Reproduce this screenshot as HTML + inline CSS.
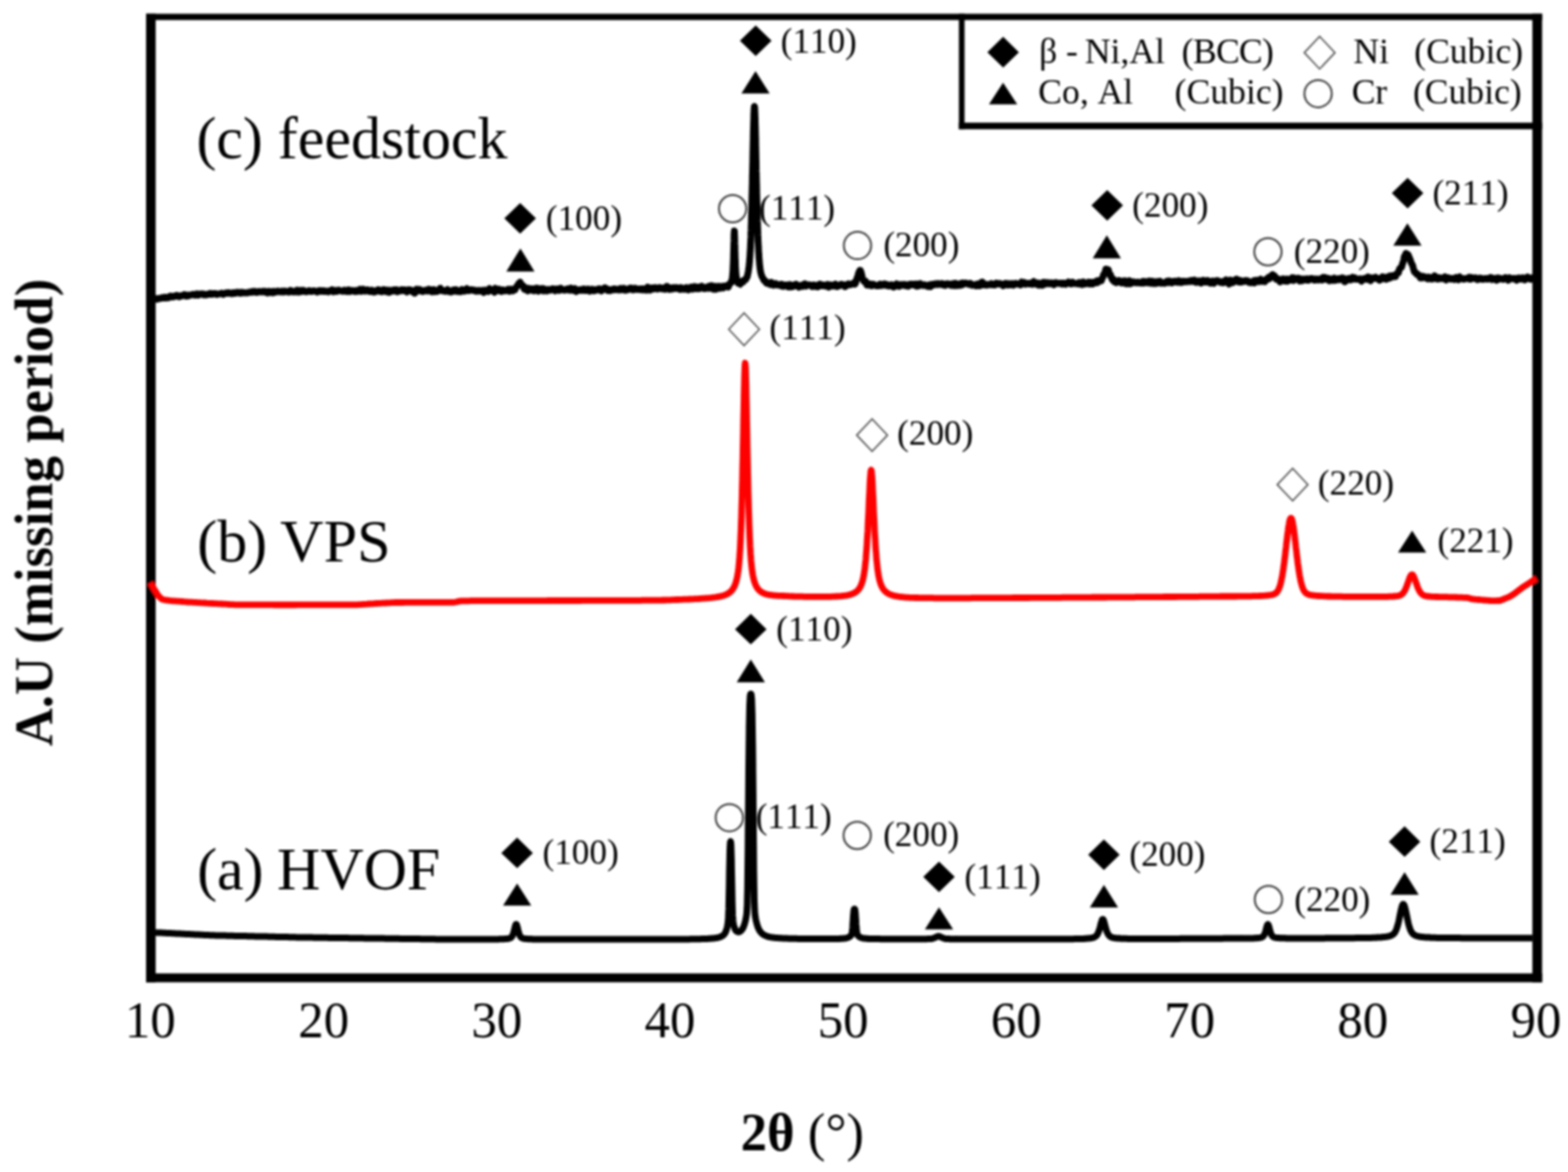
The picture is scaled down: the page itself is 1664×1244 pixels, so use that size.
<!DOCTYPE html>
<html lang="en"><head><meta charset="utf-8"><title>XRD patterns</title>
<style>html,body{margin:0;padding:0;background:#fff;}body{width:1664px;height:1244px;overflow:hidden;}svg{display:block;}text{font-family:"Liberation Serif",serif;fill:#000;font-kerning:none;}</style></head><body>
<svg width="1664" height="1244" viewBox="0 0 1664 1244">
<rect width="1664" height="1244" fill="#fff"/>
<defs><filter id="b" filterUnits="userSpaceOnUse" x="0" y="0" width="1664" height="1244"><feGaussianBlur stdDeviation="0.9"/></filter></defs>
<g filter="url(#b)">
<path d="M165.0 317.3L165.4 316.8L165.8 316.8L166.2 317.5L166.6 317.7L167.0 317.5L167.4 317.3L167.8 316.9L168.2 316.7L168.6 316.8L169.0 316.9L169.4 317.0L169.8 316.9L170.2 316.7L170.6 316.5L171.0 316.5L171.4 316.2L171.8 315.9L172.2 315.9L172.6 316.4L173.0 316.5L173.4 316.3L173.8 316.2L174.2 316.2L174.6 315.9L175.0 315.4L175.4 315.5L175.8 316.3L176.2 316.4L176.6 316.0L177.0 315.7L177.4 315.5L177.8 315.6L178.2 316.2L178.6 316.2L179.0 315.6L179.4 315.1L179.8 314.7L180.2 314.6L180.6 314.8L181.0 314.6L181.4 314.1L181.8 314.3L182.2 315.1L182.6 315.3L183.0 314.9L183.4 314.6L183.8 314.5L184.2 314.6L184.6 315.1L185.0 314.9L185.4 314.1L185.8 314.0L186.2 314.6L186.6 314.5L187.0 313.7L187.4 313.5L187.8 313.9L188.2 314.0L188.6 313.8L189.0 314.0L189.4 314.7L189.8 315.0L190.2 315.1L190.6 314.8L191.0 314.2L191.4 314.0L191.8 314.3L192.2 314.3L192.6 314.0L193.0 313.9L193.4 314.1L193.8 313.9L194.2 313.5L194.6 313.2L195.0 312.9L195.4 312.7L195.8 312.6L196.2 312.9L196.6 313.4L197.0 314.0L197.4 314.4L197.8 314.4L198.2 313.8L198.6 313.4L199.0 313.1L199.4 313.3L199.8 313.9L200.2 314.0L200.6 313.5L201.0 313.3L201.4 313.2L201.8 313.2L202.2 313.2L202.6 313.2L203.0 313.0L203.4 312.9L203.8 312.9L204.2 312.7L204.6 312.3L205.0 312.4L205.4 312.9L205.8 313.1L206.2 312.9L206.6 313.0L207.0 313.4L207.4 313.3L207.8 312.8L208.2 312.4L208.6 311.9L209.0 311.9L209.4 312.4L209.8 312.9L210.2 313.4L210.6 313.4L211.0 312.7L211.4 312.4L211.8 312.2L212.2 312.1L212.6 312.0L213.0 311.9L213.4 311.9L213.8 312.0L214.2 312.2L214.6 312.2L215.0 311.9L215.4 312.2L215.8 312.9L216.2 313.0L216.6 312.5L217.0 312.3L217.4 312.4L217.8 312.6L218.2 313.0L218.6 313.1L219.0 313.1L219.4 312.9L219.8 312.4L220.2 312.2L220.6 312.3L221.0 312.4L221.4 312.5L221.8 312.4L222.2 312.2L222.6 311.8L223.0 311.3L223.4 311.4L223.8 312.1L224.2 312.5L224.6 312.5L225.0 312.5L225.4 312.3L225.8 312.0L226.2 311.6L226.6 311.5L227.0 311.7L227.4 311.7L227.8 311.6L228.2 311.5L228.6 311.6L229.0 311.9L229.4 312.3L229.8 312.6L230.2 312.6L230.6 312.5L231.0 312.2L231.4 312.1L231.8 312.0L232.2 312.0L232.6 312.0L233.0 311.9L233.4 311.7L233.8 311.6L234.2 311.5L234.6 311.4L235.0 311.2L235.4 311.2L235.8 311.4L236.2 311.8L236.6 312.5L237.0 312.6L237.4 312.1L237.8 311.7L238.2 311.3L238.6 311.1L239.0 311.1L239.4 311.0L239.8 310.8L240.2 310.9L240.6 311.3L241.0 311.5L241.4 311.4L241.8 311.1L242.2 310.6L242.6 310.6L243.0 311.1L243.4 311.2L243.8 310.9L244.2 311.0L244.6 311.6L245.0 311.7L245.4 311.3L245.8 311.3L246.2 311.8L246.6 311.7L247.0 311.0L247.4 310.7L247.8 310.7L248.2 310.8L248.6 311.0L249.0 311.1L249.4 311.4L249.8 311.4L250.2 311.2L250.6 310.9L251.0 310.3L251.4 310.2L251.8 310.6L252.2 310.8L252.6 310.8L253.0 310.7L253.4 310.5L253.8 310.4L254.2 310.3L254.6 310.6L255.0 311.4L255.4 311.4L255.8 310.7L256.2 310.3L256.6 310.2L257.0 310.3L257.4 310.8L257.8 310.9L258.2 310.7L258.6 310.6L259.0 310.5L259.4 310.6L259.8 310.9L260.2 311.0L260.6 310.9L261.0 310.8L261.4 310.8L261.8 310.8L262.2 311.0L262.6 311.0L263.0 310.8L263.4 310.5L263.8 310.2L264.2 310.1L264.6 310.1L265.0 310.1L265.4 310.1L265.8 310.2L266.2 310.4L266.6 310.3L267.0 309.9L267.4 309.5L267.8 309.3L268.2 309.4L268.6 310.1L269.0 310.1L269.4 309.6L269.8 309.3L270.2 309.1L270.6 309.4L271.0 310.1L271.4 310.3L271.8 309.9L272.2 309.9L272.6 310.3L273.0 310.4L273.4 310.0L273.8 309.7L274.2 309.5L274.6 309.4L275.0 309.3L275.4 309.4L275.8 309.7L276.2 309.8L276.6 309.9L277.0 309.8L277.4 309.6L277.8 309.6L278.2 309.8L278.6 309.7L279.0 309.2L279.4 309.3L279.8 309.8L280.2 309.7L280.6 309.1L281.0 309.1L281.4 309.6L281.8 310.0L282.2 310.3L282.6 310.5L283.0 310.6L283.4 310.8L283.8 311.0L284.2 310.5L284.6 309.4L285.0 309.2L285.4 310.0L285.8 310.5L286.2 310.6L286.6 310.6L287.0 310.5L287.4 310.2L287.8 309.5L288.2 309.4L288.6 309.8L289.0 310.3L289.4 310.8L289.8 310.5L290.2 309.3L290.6 309.1L291.0 309.7L291.4 310.2L291.8 310.4L292.2 310.2L292.6 309.5L293.0 309.4L293.4 309.8L293.8 309.8L294.2 309.2L294.6 308.9L295.0 309.0L295.4 309.1L295.8 309.0L296.2 309.2L296.6 309.5L297.0 309.7L297.4 309.5L297.8 309.7L298.2 310.0L298.6 309.9L299.0 309.2L299.4 309.0L299.8 309.3L300.2 309.6L300.6 310.0L301.0 310.1L301.4 309.9L301.8 309.5L302.2 308.9L302.6 308.9L303.0 309.6L303.4 309.7L303.8 309.3L304.2 309.3L304.6 309.6L305.0 309.7L305.4 309.7L305.8 309.8L306.2 310.1L306.6 310.1L307.0 309.7L307.4 309.1L307.8 308.4L308.2 308.1L308.6 308.3L309.0 308.8L309.4 309.5L309.8 309.7L310.2 309.4L310.6 309.4L311.0 309.9L311.4 310.0L311.8 309.7L312.2 309.4L312.6 309.0L313.0 309.1L313.4 309.8L313.8 309.8L314.2 309.1L314.6 308.5L315.0 308.0L315.4 308.6L315.8 310.0L316.2 310.1L316.6 308.6L317.0 308.3L317.4 309.3L317.8 309.8L318.2 309.9L318.6 309.8L319.0 309.5L319.4 309.0L319.8 308.3L320.2 308.5L320.6 309.5L321.0 309.5L321.4 308.6L321.8 308.2L322.2 308.2L322.6 308.4L323.0 308.7L323.4 309.1L323.8 309.6L324.2 309.7L324.6 309.5L325.0 309.5L325.4 309.7L325.8 309.5L326.2 309.1L326.6 308.9L327.0 309.0L327.4 308.8L327.8 308.5L328.2 308.4L328.6 308.7L329.0 309.1L329.4 309.4L329.8 309.4L330.2 309.0L330.6 309.0L331.0 309.3L331.4 309.3L331.8 308.8L332.2 308.6L332.6 308.6L333.0 308.7L333.4 309.0L333.8 309.0L334.2 308.9L334.6 309.1L335.0 309.3L335.4 309.4L335.8 309.3L336.2 309.5L336.6 310.1L337.0 310.0L337.4 309.2L337.8 308.8L338.2 308.8L338.6 308.7L339.0 308.3L339.4 308.4L339.8 308.8L340.2 309.1L340.6 309.4L341.0 309.2L341.4 308.7L341.8 308.5L342.2 308.8L342.6 309.1L343.0 309.4L343.4 309.3L343.8 309.0L344.2 308.7L344.6 308.6L345.0 308.8L345.4 309.4L345.8 309.5L346.2 309.2L346.6 309.0L347.0 309.1L347.4 309.4L347.8 309.7L348.2 309.8L348.6 309.8L349.0 309.5L349.4 308.9L349.8 308.5L350.2 308.5L350.6 308.6L351.0 308.9L351.4 309.0L351.8 308.8L352.2 308.4L352.6 307.6L353.0 307.9L353.4 309.2L353.8 309.6L354.2 309.1L354.6 309.0L355.0 309.2L355.4 309.0L355.8 308.2L356.2 308.3L356.6 309.3L357.0 309.4L357.4 308.7L357.8 308.4L358.2 308.6L358.6 308.4L359.0 307.9L359.4 307.8L359.8 308.3L360.2 308.6L360.6 308.5L361.0 308.5L361.4 308.5L361.8 308.7L362.2 308.9L362.6 309.0L363.0 308.8L363.4 308.9L363.8 309.3L364.2 309.2L364.6 308.6L365.0 308.2L365.4 307.9L365.8 308.0L366.2 308.4L366.6 308.8L367.0 309.0L367.4 309.3L367.8 309.5L368.2 309.6L368.6 309.4L369.0 308.7L369.4 307.7L369.8 307.6L370.2 308.5L370.6 309.1L371.0 309.6L371.4 309.5L371.8 308.9L372.2 308.5L372.6 308.3L373.0 308.3L373.4 308.7L373.8 308.7L374.2 308.3L374.6 308.4L375.0 308.9L375.4 309.0L375.8 308.7L376.2 308.9L376.6 309.5L377.0 309.6L377.4 309.2L377.8 308.8L378.2 308.2L378.6 308.3L379.0 308.8L379.4 309.2L379.8 309.3L380.2 309.1L380.6 308.4L381.0 308.1L381.4 308.2L381.8 307.8L382.2 307.0L382.6 307.3L383.0 308.7L383.4 309.1L383.8 308.4L384.2 307.8L384.6 307.1L385.0 306.8L385.4 307.0L385.8 307.4L386.2 308.1L386.6 308.6L387.0 309.1L387.4 309.1L387.8 308.7L388.2 308.7L388.6 308.9L389.0 308.7L389.4 308.0L389.8 307.6L390.2 307.5L390.6 307.9L391.0 308.9L391.4 309.3L391.8 309.1L392.2 308.9L392.6 308.7L393.0 308.9L393.4 309.5L393.8 309.3L394.2 308.3L394.6 307.9L395.0 308.1L395.4 308.6L395.8 309.2L396.2 309.7L396.6 310.1L397.0 309.9L397.4 309.0L397.8 309.0L398.2 309.8L398.6 309.6L399.0 308.6L399.4 308.3L399.8 308.7L400.2 308.8L400.6 308.6L401.0 308.2L401.4 307.5L401.8 307.6L402.2 308.4L402.6 309.0L403.0 309.3L403.4 309.2L403.8 308.7L404.2 308.5L404.6 308.6L405.0 308.9L405.4 309.6L405.8 309.3L406.2 308.1L406.6 307.4L407.0 307.3L407.4 307.5L407.8 307.8L408.2 307.9L408.6 307.7L409.0 308.1L409.4 309.3L409.8 309.6L410.2 309.2L410.6 308.7L411.0 308.1L411.4 307.9L411.8 308.0L412.2 308.9L412.6 310.5L413.0 310.5L413.4 308.9L413.8 308.0L414.2 308.0L414.6 308.2L415.0 308.7L415.4 309.0L415.8 309.2L416.2 309.1L416.6 308.9L417.0 308.6L417.4 308.1L417.8 307.7L418.2 307.6L418.6 308.0L419.0 308.8L419.4 309.1L419.8 308.8L420.2 308.2L420.6 307.5L421.0 307.8L421.4 309.1L421.8 309.7L422.2 309.5L422.6 309.1L423.0 308.7L423.4 308.4L423.8 308.4L424.2 308.5L424.6 308.8L425.0 308.7L425.4 308.2L425.8 307.8L426.2 307.5L426.6 307.8L427.0 308.6L427.4 308.5L427.8 307.7L428.2 307.7L428.6 308.6L429.0 308.6L429.4 307.7L429.8 307.6L430.2 308.2L430.6 308.6L431.0 308.5L431.4 309.0L431.8 309.9L432.2 309.7L432.6 308.3L433.0 307.6L433.4 307.4L433.8 307.5L434.2 307.9L434.6 307.9L435.0 307.7L435.4 307.7L435.8 308.0L436.2 308.3L436.6 308.8L437.0 309.2L437.4 309.3L437.8 309.6L438.2 310.1L438.6 309.7L439.0 308.5L439.4 308.8L439.8 310.4L440.2 311.1L440.6 310.8L441.0 310.1L441.4 309.0L441.8 308.0L442.2 306.9L442.6 307.0L443.0 308.0L443.4 308.6L443.8 308.7L444.2 308.2L444.6 307.0L445.0 307.0L445.4 308.2L445.8 308.7L446.2 308.5L446.6 308.3L447.0 308.0L447.4 308.2L447.8 309.0L448.2 309.4L448.6 309.6L449.0 309.3L449.4 308.6L449.8 308.4L450.2 308.7L450.6 308.7L451.0 308.2L451.4 308.0L451.8 307.9L452.2 308.1L452.6 308.5L453.0 308.9L453.4 309.1L453.8 308.9L454.2 308.4L454.6 307.7L455.0 306.9L455.4 307.2L455.8 308.6L456.2 308.7L456.6 307.6L457.0 307.5L457.4 308.4L457.8 309.2L458.2 310.0L458.6 310.0L459.0 309.1L459.4 308.4L459.8 307.8L460.2 307.4L460.6 307.3L461.0 307.9L461.4 309.2L461.8 309.5L462.2 309.0L462.6 308.8L463.0 309.1L463.4 309.3L463.8 309.5L464.2 309.3L464.6 308.9L465.0 308.6L465.4 308.4L465.8 308.2L466.2 307.9L466.6 307.2L467.0 306.1L467.4 306.0L467.8 306.7L468.2 307.5L468.6 308.2L469.0 308.6L469.4 308.5L469.8 308.6L470.2 308.9L470.6 308.9L471.0 308.7L471.4 308.6L471.8 308.7L472.2 309.0L472.6 309.3L473.0 309.0L473.4 308.2L473.8 307.9L474.2 308.2L474.6 308.0L475.0 307.4L475.4 307.7L475.8 309.0L476.2 309.4L476.6 308.9L477.0 308.8L477.4 309.0L477.8 309.4L478.2 309.9L478.6 310.1L479.0 309.8L479.4 309.4L479.8 308.9L480.2 308.8L480.6 309.2L481.0 308.9L481.4 307.7L481.8 307.7L482.2 308.6L482.6 309.0L483.0 308.8L483.4 308.3L483.8 307.4L484.2 307.7L484.6 309.2L485.0 309.4L485.4 308.4L485.8 308.3L486.2 308.9L486.6 309.0L487.0 308.5L487.4 308.5L487.8 309.2L488.2 309.7L488.6 309.8L489.0 309.4L489.4 308.3L489.8 307.6L490.2 307.2L490.6 307.4L491.0 308.1L491.4 308.7L491.8 309.2L492.2 309.1L492.6 308.5L493.0 308.2L493.4 308.0L493.8 308.3L494.2 308.8L494.6 308.3L495.0 306.6L495.4 306.3L495.8 307.4L496.2 307.7L496.6 307.4L497.0 307.6L497.4 308.5L497.8 308.6L498.2 308.1L498.6 307.7L499.0 307.6L499.4 307.6L499.8 308.0L500.2 307.9L500.6 307.4L501.0 307.5L501.4 308.2L501.8 308.4L502.2 308.0L502.6 308.0L503.0 308.1L503.4 308.1L503.8 307.9L504.2 308.2L504.6 309.1L505.0 309.2L505.4 308.7L505.8 308.6L506.2 308.9L506.6 309.1L507.0 309.0L507.4 308.7L507.8 308.1L508.2 308.1L508.6 308.8L509.0 309.1L509.4 308.9L509.8 308.9L510.2 308.9L510.6 308.7L511.0 308.3L511.4 308.1L511.8 308.1L512.2 308.4L512.6 309.0L513.0 309.7L513.4 310.4L513.8 310.0L514.2 308.4L514.6 308.0L515.0 308.7L515.4 308.8L515.8 308.4L516.2 308.4L516.6 309.0L517.0 309.2L517.4 309.0L517.8 309.1L518.2 309.4L518.6 308.6L519.0 306.7L519.4 306.3L519.8 307.4L520.2 307.8L520.6 307.6L521.0 307.7L521.4 308.2L521.7 308.3L521.8 308.2L522.0 308.1L522.2 307.9L522.5 307.8L522.6 307.8L522.7 307.8L523.0 307.8L523.0 307.8L523.2 307.8L523.4 308.2L523.5 308.3L523.7 308.7L523.8 308.8L524.0 309.1L524.2 309.5L524.5 309.8L524.6 310.1L524.7 310.2L525.0 309.5L525.0 309.2L525.2 308.0L525.4 306.8L525.5 306.5L525.7 306.0L525.8 306.3L526.0 306.7L526.2 307.5L526.5 308.2L526.6 308.3L526.7 308.4L527.0 308.6L527.0 308.6L527.2 308.8L527.4 308.7L527.5 308.7L527.7 308.6L527.8 308.5L528.0 308.5L528.2 308.4L528.5 308.3L528.6 308.2L528.7 308.1L529.0 307.9L529.0 307.8L529.2 307.6L529.4 307.3L529.5 307.3L529.7 307.1L529.8 307.2L530.0 307.3L530.2 307.4L530.5 307.6L530.6 307.9L530.7 308.1L531.0 308.6L531.0 308.7L531.2 309.1L531.4 309.2L531.5 309.3L531.7 309.4L531.8 309.4L532.0 309.5L532.2 309.2L532.5 308.9L532.6 308.7L532.7 308.6L533.0 308.3L533.0 308.3L533.2 308.0L533.4 307.8L533.5 307.7L533.7 307.7L533.8 307.8L534.0 308.0L534.2 308.2L534.5 308.5L534.6 308.4L534.7 308.3L535.0 308.2L535.0 308.2L535.2 308.1L535.4 308.3L535.5 308.4L535.7 308.6L535.8 308.7L536.0 308.9L536.2 308.8L536.5 308.7L536.6 308.6L536.7 308.5L537.0 308.3L537.0 308.3L537.2 308.1L537.4 307.9L537.5 307.8L537.7 307.8L537.8 307.9L538.0 308.0L538.2 308.3L538.5 308.4L538.6 308.1L538.7 308.0L539.0 307.5L539.0 307.4L539.2 307.1L539.4 307.6L539.5 307.7L539.7 308.3L539.8 308.6L540.0 308.9L540.2 309.1L540.5 309.2L540.6 309.3L540.7 309.3L541.0 308.9L541.0 308.8L541.2 308.1L541.4 307.5L541.5 307.4L541.7 307.1L541.8 307.3L542.0 307.6L542.2 308.1L542.5 308.3L542.6 308.1L542.7 307.9L543.0 307.4L543.0 307.3L543.2 306.9L543.4 307.4L543.5 307.5L543.7 308.1L543.8 308.4L544.0 308.7L544.2 308.8L544.5 308.7L544.6 308.6L544.7 308.5L545.0 308.2L545.0 308.1L545.2 307.8L545.4 307.4L545.5 307.3L545.7 307.2L545.8 307.3L546.0 307.4L546.2 307.7L546.5 307.7L546.6 307.3L546.7 307.1L547.0 306.4L547.0 306.3L547.2 305.7L547.4 305.5L547.5 305.4L547.7 305.0L547.8 304.9L548.0 304.7L548.2 304.3L548.5 304.0L548.6 303.8L548.7 303.6L549.0 303.3L549.0 303.2L549.2 303.0L549.4 302.7L549.5 302.7L549.7 302.3L549.8 302.1L550.0 301.8L550.2 301.3L550.5 300.9L550.6 300.7L550.7 300.7L551.0 300.5L551.0 300.5L551.2 300.4L551.4 300.1L551.5 300.0L551.7 299.7L551.8 299.7L552.0 299.5L552.2 300.0L552.5 300.6L552.6 301.0L552.7 301.3L553.0 301.9L553.0 302.0L553.2 302.4L553.4 302.7L553.5 302.8L553.7 303.1L553.8 303.1L554.0 303.1L554.2 303.0L554.5 303.0L554.6 303.1L554.7 303.1L555.0 303.2L555.0 303.2L555.2 303.3L555.4 304.1L555.5 304.3L555.7 305.2L555.8 305.6L556.0 306.2L556.2 306.7L556.5 307.0L556.6 307.2L556.7 307.3L557.0 307.3L557.0 307.3L557.2 307.1L557.4 306.8L557.5 306.8L557.7 306.5L557.8 306.4L558.0 306.3L558.2 306.0L558.5 305.9L558.6 306.2L558.7 306.4L559.0 306.9L559.0 307.1L559.2 307.5L559.4 307.8L559.5 307.9L559.7 308.3L559.8 308.5L560.0 308.7L560.2 308.0L560.5 307.0L560.6 306.3L560.7 305.9L561.0 306.0L561.0 306.1L561.2 306.7L561.4 307.3L561.5 307.5L561.7 307.8L561.8 307.7L562.0 307.6L562.2 307.4L562.5 307.1L562.6 307.0L562.7 307.0L563.0 306.8L563.0 306.8L563.2 306.7L563.4 307.0L563.5 307.1L563.7 307.5L563.8 307.7L564.0 307.9L564.2 307.6L564.5 307.0L564.6 306.7L564.7 306.5L565.0 306.6L565.0 306.7L565.2 307.1L565.4 307.5L565.5 307.6L565.7 308.0L565.8 308.1L566.0 308.3L566.2 308.6L566.5 308.8L566.6 308.6L566.7 308.5L567.0 308.1L567.0 308.1L567.2 307.8L567.4 307.5L567.5 307.4L567.7 307.1L567.8 307.0L568.0 306.8L568.2 306.5L568.5 306.2L568.6 306.1L568.7 305.9L569.0 305.9L569.0 306.0L569.2 306.1L569.4 306.2L569.5 306.2L569.7 306.3L569.8 306.2L570.0 306.1L570.2 305.9L570.5 306.0L570.6 306.6L570.7 307.1L571.0 308.1L571.0 308.4L571.2 309.2L571.4 308.8L571.5 308.6L571.7 308.1L571.8 307.8L572.0 307.5L572.2 307.2L572.5 306.9L572.6 306.8L572.7 306.7L573.0 306.5L573.0 306.5L573.2 306.5L573.4 306.4L573.5 306.4L573.7 306.4L573.8 306.4L574.0 306.4L574.2 306.5L574.5 306.6L574.6 306.7L574.7 306.8L575.0 307.1L575.0 307.1L575.2 307.3L575.4 307.0L575.5 307.0L575.7 306.7L575.8 306.6L576.0 306.4L576.2 307.1L576.5 308.0L576.6 308.6L576.7 308.9L577.0 308.8L577.0 308.7L577.2 308.1L577.4 307.5L577.5 307.3L577.7 306.9L577.8 306.9L578.0 306.9L578.2 306.8L578.5 306.9L578.6 307.1L578.7 307.2L579.0 307.6L579.0 307.6L579.2 307.9L579.4 308.2L579.5 308.3L579.7 308.6L579.8 308.8L580.0 309.0L580.2 309.0L580.5 309.0L580.6 309.0L580.7 308.9L581.0 308.6L581.0 308.5L581.2 308.0L581.4 307.6L581.5 307.5L581.8 307.3L582.2 307.7L582.6 307.8L583.0 307.8L583.4 307.8L583.8 308.0L584.2 308.1L584.6 307.9L585.0 307.5L585.4 306.9L585.8 306.6L586.2 306.4L586.6 306.7L587.0 307.4L587.4 307.4L587.8 306.7L588.2 307.0L588.6 308.3L589.0 308.6L589.4 307.9L589.8 307.3L590.2 306.8L590.6 306.7L591.0 307.1L591.4 307.2L591.8 307.1L592.2 307.1L592.6 307.3L593.0 307.7L593.4 308.2L593.8 307.9L594.2 306.7L594.6 306.0L595.0 305.8L595.4 306.2L595.8 307.3L596.2 307.7L596.6 307.5L597.0 307.4L597.4 307.6L597.8 307.8L598.2 307.9L598.6 307.8L599.0 307.5L599.4 307.6L599.8 308.1L600.2 307.9L600.6 307.0L601.0 306.9L601.4 307.3L601.8 307.3L602.2 306.9L602.6 306.6L603.0 306.4L603.4 306.8L603.8 307.7L604.2 308.1L604.6 308.1L605.0 307.4L605.4 306.2L605.8 305.7L606.2 306.1L606.6 306.7L607.0 307.4L607.4 308.0L607.8 308.3L608.2 308.1L608.6 307.2L609.0 306.9L609.4 307.2L609.8 307.0L610.2 306.3L610.6 307.0L611.0 309.0L611.4 309.4L611.8 308.4L612.2 308.0L612.6 308.2L613.0 308.3L613.4 308.1L613.8 308.2L614.2 308.3L614.6 308.3L615.0 308.1L615.4 307.8L615.8 307.3L616.2 307.3L616.6 307.9L617.0 308.0L617.4 307.7L617.8 307.8L618.2 308.4L618.6 308.2L619.0 307.2L619.4 306.7L619.8 306.8L620.2 307.1L620.6 307.7L621.0 308.2L621.4 308.5L621.8 308.4L622.2 307.8L622.6 307.3L623.0 306.9L623.4 306.8L623.8 307.1L624.2 307.1L624.6 307.0L625.0 307.5L625.4 308.7L625.8 309.0L626.2 308.5L626.6 308.3L627.0 308.5L627.4 308.4L627.8 307.9L628.2 307.4L628.6 307.0L629.0 307.2L629.4 308.1L629.8 308.6L630.2 308.9L630.6 308.7L631.0 308.2L631.4 307.7L631.8 307.4L632.2 307.6L632.6 308.1L633.0 308.0L633.4 307.3L633.8 307.2L634.2 307.8L634.6 307.7L635.0 307.0L635.4 306.5L635.8 306.4L636.2 306.7L636.6 307.5L637.0 307.8L637.4 307.7L637.8 308.0L638.2 308.8L638.6 308.6L639.0 307.5L639.4 307.1L639.8 307.2L640.2 307.0L640.6 306.4L641.0 305.9L641.4 305.6L641.8 305.4L642.2 305.4L642.6 306.0L643.0 307.1L643.4 307.3L643.8 306.4L644.2 306.6L644.6 307.8L645.0 308.4L645.4 308.5L645.8 308.2L646.2 307.3L646.6 307.4L647.0 308.3L647.4 308.5L647.8 307.8L648.2 307.6L648.6 308.1L649.0 307.9L649.4 307.3L649.8 307.2L650.2 307.8L650.6 307.6L651.0 306.7L651.4 306.6L651.8 307.3L652.2 307.5L652.6 306.9L653.0 306.7L653.4 306.9L653.8 307.2L654.2 307.5L654.6 307.6L655.0 307.4L655.4 307.2L655.8 307.1L656.2 307.2L656.6 307.6L657.0 307.8L657.4 307.8L657.8 307.3L658.2 306.2L658.6 306.1L659.0 307.1L659.4 307.6L659.8 307.7L660.2 307.3L660.6 306.6L661.0 306.5L661.4 307.1L661.8 307.0L662.2 306.1L662.6 306.4L663.0 307.7L663.4 308.0L663.8 307.2L664.2 306.8L664.6 306.8L665.0 307.2L665.4 307.8L665.8 307.8L666.2 307.1L666.6 307.0L667.0 307.3L667.4 307.1L667.8 306.3L668.2 306.0L668.6 306.2L669.0 306.1L669.4 305.7L669.8 305.8L670.2 306.4L670.6 307.0L671.0 307.6L671.4 307.7L671.8 307.3L672.2 307.3L672.6 307.6L673.0 307.3L673.4 306.3L673.8 305.9L674.2 305.9L674.6 306.1L675.0 306.3L675.4 306.6L675.8 307.1L676.2 307.3L676.6 307.2L677.0 307.1L677.4 306.9L677.8 306.9L678.2 307.3L678.6 307.2L679.0 306.8L679.4 306.7L679.8 306.7L680.2 307.1L680.6 307.7L681.0 307.6L681.4 306.6L681.8 306.4L682.2 306.7L682.6 307.3L683.0 308.0L683.4 308.0L683.8 307.2L684.2 307.0L684.6 307.3L685.0 307.1L685.4 306.4L685.8 306.7L686.2 308.0L686.6 307.6L687.0 305.5L687.4 304.7L687.8 305.3L688.2 305.6L688.6 305.6L689.0 306.3L689.4 307.6L689.8 307.9L690.2 307.3L690.6 306.8L691.0 306.5L691.4 306.1L691.8 305.6L692.2 305.7L692.6 306.6L693.0 306.9L693.4 306.8L693.8 306.5L694.2 306.1L694.6 305.7L695.0 305.3L695.4 305.2L695.8 305.4L696.2 305.8L696.6 306.4L697.0 306.8L697.4 306.8L697.8 306.8L698.2 306.7L698.6 306.5L699.0 306.4L699.4 306.0L699.8 305.2L700.2 305.2L700.6 306.1L701.0 306.3L701.4 305.7L701.8 305.7L702.2 306.2L702.6 306.6L703.0 306.8L703.4 306.6L703.8 306.1L704.2 305.7L704.6 305.5L705.0 305.9L705.4 306.9L705.8 307.2L706.2 306.9L706.6 306.5L707.0 306.0L707.4 305.1L707.8 304.0L708.2 304.1L708.6 305.6L709.0 306.5L709.4 306.8L709.8 307.1L710.2 307.3L710.6 307.0L711.0 306.1L711.4 305.6L711.8 305.6L712.2 305.7L712.6 305.8L713.0 306.1L713.4 306.8L713.8 306.6L714.2 305.6L714.6 305.3L715.0 305.9L715.4 305.9L715.8 305.5L716.2 305.6L716.6 306.2L717.0 306.0L717.4 305.1L717.8 305.1L718.2 306.1L718.6 306.3L719.0 305.9L719.4 305.7L719.8 305.8L720.2 306.1L720.6 306.5L721.0 306.8L721.4 307.1L721.8 306.5L722.2 305.1L722.6 305.1L723.0 306.4L723.4 307.0L723.8 306.7L724.2 306.4L724.6 306.0L725.0 306.2L725.4 307.0L725.8 307.1L726.2 306.5L726.6 306.5L727.0 307.0L727.4 306.8L727.8 305.9L728.2 305.3L728.6 305.2L729.0 305.6L729.4 306.6L729.8 307.4L730.2 307.8L730.6 307.7L731.0 306.9L731.4 306.6L731.8 306.7L732.2 306.4L732.6 305.7L733.0 305.2L733.4 304.7L733.8 304.8L734.2 305.3L734.6 306.0L735.0 306.9L735.4 306.5L735.8 304.8L736.2 304.3L736.6 304.9L737.0 304.9L737.4 304.2L737.8 304.3L738.2 305.3L738.6 306.0L739.0 306.4L739.4 306.1L739.8 305.0L740.2 304.7L740.6 305.1L741.0 305.7L741.4 306.6L741.8 306.6L742.2 305.9L742.6 305.3L743.0 304.7L743.4 304.3L743.8 304.3L744.2 304.1L744.6 303.7L745.0 304.2L745.4 305.6L745.8 305.9L746.2 305.2L746.6 305.2L747.0 306.1L747.4 306.5L747.8 306.4L748.2 306.0L748.6 305.2L749.0 304.8L749.3 304.9L749.4 304.9L749.5 304.9L749.8 305.2L750.0 305.6L750.2 305.9L750.3 306.0L750.5 306.1L750.6 306.0L750.8 305.9L751.0 305.7L751.0 305.6L751.3 305.5L751.4 305.5L751.5 305.6L751.8 305.6L752.0 305.5L752.2 305.1L752.3 304.9L752.5 304.3L752.6 304.2L752.8 303.7L753.0 304.3L753.0 304.5L753.3 305.2L753.4 305.6L753.5 306.0L753.8 305.7L754.0 305.2L754.2 304.8L754.3 304.6L754.5 304.1L754.6 304.0L754.8 303.7L755.0 303.3L755.0 303.2L755.3 303.2L755.4 303.4L755.5 303.7L755.8 304.2L756.0 304.6L756.2 304.8L756.3 305.0L756.5 305.3L756.6 305.3L756.8 305.6L757.0 306.0L757.0 306.1L757.3 306.6L757.4 306.8L757.5 307.1L757.8 306.6L758.0 305.8L758.2 305.3L758.3 305.0L758.5 304.5L758.6 304.5L758.8 304.2L759.0 304.0L759.0 303.9L759.3 304.2L759.4 304.6L759.5 305.2L759.8 306.3L760.0 307.0L760.2 306.6L760.3 306.4L760.5 305.8L760.6 305.6L760.8 305.1L761.0 305.0L761.0 305.0L761.3 304.8L761.4 304.8L761.5 304.7L761.8 304.4L762.0 304.2L762.2 304.0L762.3 303.9L762.5 303.8L762.6 303.8L762.8 303.8L763.0 303.8L763.0 303.8L763.3 304.1L763.4 304.4L763.5 304.8L763.8 305.6L764.0 306.1L764.2 305.8L764.3 305.5L764.5 305.0L764.6 304.8L764.8 304.4L765.0 304.3L765.0 304.3L765.3 304.2L765.4 304.1L765.5 304.1L765.8 304.0L766.0 304.0L766.2 304.0L766.3 304.0L766.5 304.4L766.6 304.5L766.8 305.0L767.0 305.5L767.0 305.6L767.3 305.7L767.4 305.4L767.5 305.0L767.8 304.3L768.0 303.8L768.2 304.0L768.3 304.1L768.5 304.5L768.6 304.5L768.8 304.8L769.0 304.7L769.0 304.7L769.3 304.5L769.4 304.5L769.5 304.4L769.8 304.3L770.0 304.2L770.2 304.2L770.3 304.2L770.5 303.9L770.6 303.8L770.8 303.5L770.9 303.4L771.0 303.2L771.0 303.1L771.1 303.0L771.3 303.0L771.4 303.1L771.4 303.2L771.5 303.4L771.6 303.5L771.8 303.8L771.9 303.9L772.0 304.2L772.1 304.2L772.2 304.3L772.3 304.4L772.4 304.4L772.5 304.6L772.6 304.6L772.8 304.8L772.9 304.7L773.0 304.3L773.0 304.2L773.1 304.0L773.3 303.5L773.4 303.4L773.4 303.3L773.5 302.9L773.6 302.7L773.8 302.4L773.9 302.3L774.0 302.0L774.1 301.9L774.2 301.7L774.3 301.5L774.4 301.4L774.5 301.1L774.6 301.1L774.8 300.8L774.9 300.7L775.0 300.4L775.0 300.4L775.1 300.3L775.3 300.2L775.4 300.2L775.4 300.2L775.5 300.2L775.6 300.2L775.8 300.2L775.9 300.2L776.0 300.0L776.1 299.9L776.2 299.6L776.3 299.2L776.4 299.0L776.5 298.2L776.6 298.0L776.8 297.0L776.9 296.8L777.0 296.0L777.0 295.7L777.1 295.4L777.3 293.9L777.4 293.4L777.4 293.0L777.5 291.4L777.6 290.8L777.8 287.9L777.9 287.0L778.0 283.1L778.1 281.9L778.2 279.4L778.3 276.6L778.4 275.1L778.5 268.0L778.6 266.0L778.8 257.9L778.9 255.9L779.0 250.4L779.0 248.9L779.1 247.5L779.3 245.2L779.4 245.5L779.4 246.1L779.5 249.5L779.6 251.1L779.8 258.7L779.9 260.7L780.0 268.7L780.1 270.5L780.2 273.8L780.3 276.8L780.4 278.2L780.5 283.1L780.6 284.1L780.8 287.7L780.9 288.4L781.0 290.4L781.0 291.0L781.1 291.5L781.3 293.3L781.4 293.7L781.4 294.1L781.5 295.0L781.6 295.3L781.8 296.4L781.9 296.6L782.0 297.4L782.1 297.6L782.2 298.0L782.3 298.3L782.4 298.4L782.5 299.0L782.6 299.2L782.8 299.7L782.9 299.8L783.0 300.2L783.0 300.3L783.1 300.4L783.3 300.6L783.4 300.6L783.4 300.6L783.5 300.5L783.6 300.5L783.8 300.4L783.9 300.4L784.0 300.3L784.1 300.2L784.2 300.2L784.3 300.1L784.4 300.0L784.5 299.9L784.6 299.8L784.8 299.6L784.9 299.8L785.0 300.2L785.0 300.3L785.1 300.4L785.3 300.9L785.4 301.0L785.4 301.2L785.5 301.5L785.6 301.7L785.8 301.2L785.9 301.1L786.0 300.7L786.1 300.6L786.2 300.4L786.3 300.1L786.4 300.0L786.5 299.8L786.6 299.8L786.8 299.6L786.9 299.6L787.0 299.5L787.0 299.5L787.1 299.4L787.3 299.2L787.4 299.1L787.4 299.1L787.5 298.8L787.6 298.7L787.8 298.4L787.9 298.4L788.0 298.2L788.1 298.3L788.2 298.4L788.3 298.5L788.4 298.6L788.5 298.8L788.6 298.9L788.8 299.2L788.9 299.0L789.0 298.7L789.0 298.6L789.1 298.5L789.3 298.1L789.4 298.0L789.4 297.9L789.5 297.5L789.6 297.4L789.8 297.4L789.9 297.3L790.0 297.3L790.1 297.2L790.2 297.2L790.3 297.1L790.4 297.1L790.5 297.1L790.6 297.1L790.8 297.1L790.9 297.0L791.0 297.0L791.0 297.0L791.1 297.0L791.3 296.8L791.4 296.6L791.4 296.5L791.5 296.2L791.6 296.1L791.8 295.6L791.9 295.5L792.0 295.1L792.1 295.0L792.2 295.0L792.3 294.9L792.4 294.8L792.5 294.6L792.6 294.5L792.8 294.2L792.9 294.0L793.0 293.5L793.0 293.3L793.1 293.1L793.3 292.2L793.4 292.0L793.4 291.8L793.5 291.1L793.6 290.9L793.8 289.8L793.9 289.6L794.0 288.4L794.1 288.1L794.2 287.5L794.3 286.8L794.4 286.5L794.5 285.2L794.6 284.8L794.8 283.4L794.9 283.0L795.0 281.7L795.0 281.2L795.1 280.7L795.3 278.7L795.4 278.1L795.4 277.5L795.5 275.7L795.6 275.0L795.8 272.2L795.9 271.4L796.0 268.2L796.1 267.4L796.2 265.7L796.3 263.9L796.4 262.9L796.5 258.8L796.6 257.8L796.8 253.1L796.9 251.7L797.0 247.4L797.0 245.9L797.1 244.4L797.3 237.9L797.4 236.1L797.4 234.4L797.5 228.9L797.6 227.1L797.8 219.2L797.9 217.2L798.0 208.6L798.1 206.4L798.2 201.9L798.3 197.3L798.4 195.0L798.5 185.8L798.6 183.4L798.8 174.0L798.9 171.6L799.0 164.5L799.0 162.1L799.1 159.8L799.3 150.3L799.4 148.0L799.4 145.7L799.5 138.9L799.6 136.8L799.8 128.9L799.9 127.1L800.0 120.9L800.1 119.6L800.2 117.3L800.3 115.5L800.4 114.8L800.5 113.1L800.6 113.0L800.8 113.9L800.9 114.4L801.0 116.6L801.0 117.6L801.1 118.7L801.3 124.1L801.4 125.7L801.4 127.4L801.5 132.8L801.6 134.8L801.8 143.9L801.9 146.3L802.0 156.2L802.1 158.8L802.2 163.9L802.3 169.0L802.4 171.6L802.5 181.4L802.6 183.8L802.8 193.3L802.9 195.6L803.0 202.4L803.0 204.7L803.1 206.9L803.3 215.3L803.4 217.4L803.4 219.4L803.5 225.2L803.6 227.1L803.8 234.2L803.9 235.9L804.0 242.3L804.1 243.8L804.2 246.7L804.3 249.5L804.4 250.8L804.5 255.8L804.6 256.9L804.8 261.3L804.9 262.3L805.0 265.2L805.0 266.1L805.1 267.0L805.3 270.2L805.4 271.0L805.4 271.7L805.5 273.8L805.6 274.4L805.8 277.0L805.9 277.6L806.0 279.9L806.1 280.4L806.2 281.4L806.3 282.4L806.4 282.8L806.5 284.5L806.6 284.9L806.8 286.3L806.9 286.7L807.0 287.6L807.0 287.9L807.1 288.2L807.3 289.2L807.4 289.4L807.4 289.6L807.5 290.2L807.6 290.4L807.8 291.0L807.9 291.2L808.0 291.8L808.1 292.0L808.2 292.3L808.3 292.6L808.4 292.7L808.5 293.2L808.6 293.3L808.8 293.8L808.9 293.9L809.0 294.2L809.0 294.3L809.1 294.4L809.4 294.8L809.4 294.8L809.6 295.1L809.8 295.7L809.9 295.8L810.1 296.4L810.2 296.7L810.4 297.0L810.6 297.4L810.9 297.7L811.0 297.8L811.1 297.9L811.4 298.0L811.4 298.0L811.6 298.0L811.8 297.9L811.9 297.9L812.1 298.1L812.2 298.4L812.4 298.8L812.6 299.5L812.9 300.0L813.0 300.1L813.1 300.2L813.4 300.4L813.4 300.4L813.6 300.6L813.8 300.7L813.9 300.7L814.1 300.9L814.2 300.9L814.4 301.0L814.6 300.9L814.9 300.7L815.0 300.6L815.1 300.5L815.4 300.5L815.4 300.5L815.6 300.6L815.8 300.6L815.9 300.7L816.1 300.6L816.2 300.5L816.4 300.4L816.6 300.2L816.9 300.1L817.0 300.5L817.1 300.8L817.4 301.5L817.4 301.6L817.6 302.1L817.8 301.5L817.9 301.3L818.1 300.5L818.2 300.1L818.4 299.6L818.6 299.9L818.9 300.5L819.0 300.9L819.1 301.1L819.4 301.4L819.4 301.4L819.6 301.5L819.8 301.5L819.9 301.5L820.1 301.7L820.2 301.9L820.4 302.1L820.6 302.5L820.9 302.8L821.0 302.7L821.1 302.6L821.4 302.4L821.4 302.3L821.6 302.1L821.8 301.9L821.9 301.9L822.1 301.6L822.2 301.5L822.4 301.3L822.6 301.2L822.9 301.1L823.0 301.0L823.1 300.9L823.4 301.0L823.4 301.1L823.6 301.3L823.8 301.5L823.9 301.5L824.1 301.8L824.2 301.9L824.4 302.0L824.6 302.3L824.9 302.6L825.0 302.6L825.1 302.6L825.4 302.6L825.4 302.6L825.6 302.6L825.8 302.5L825.9 302.5L826.1 302.4L826.2 302.4L826.4 302.4L826.6 302.2L826.9 302.1L827.0 302.0L827.1 302.0L827.4 302.0L827.4 302.0L827.6 302.2L827.8 302.3L827.9 302.3L828.1 302.6L828.2 302.7L828.4 303.0L828.6 303.4L828.9 303.5L829.0 303.1L829.1 302.9L829.4 302.2L829.4 302.1L829.6 301.6L829.8 301.9L829.9 302.0L830.1 302.3L830.2 302.5L830.4 302.7L830.6 303.2L831.0 304.0L831.4 304.1L831.8 303.6L832.2 303.1L832.6 302.6L833.0 302.7L833.4 303.2L833.8 303.2L834.2 302.5L834.6 302.3L835.0 302.7L835.4 303.3L835.8 304.1L836.2 304.6L836.6 304.7L837.0 303.9L837.4 302.1L837.8 301.9L838.2 303.1L838.6 304.0L839.0 304.6L839.4 304.3L839.8 303.1L840.2 302.7L840.6 303.1L841.0 303.6L841.4 304.2L841.8 304.0L842.2 303.0L842.6 302.8L843.0 303.3L843.4 303.4L843.8 303.1L844.2 302.5L844.6 301.6L845.0 301.7L845.4 302.8L845.8 303.3L846.2 303.0L846.6 303.2L847.0 303.7L847.4 304.3L847.8 304.9L848.2 304.8L848.6 304.1L849.0 303.5L849.4 303.0L849.8 302.9L850.2 303.3L850.6 303.5L851.0 303.4L851.4 303.5L851.8 303.9L852.2 303.5L852.6 302.3L853.0 301.7L853.4 301.9L853.8 301.7L854.2 301.3L854.6 301.7L855.0 303.1L855.4 303.6L855.8 303.2L856.2 302.9L856.6 302.6L857.0 302.4L857.4 302.4L857.8 302.4L858.2 302.5L858.6 302.4L859.0 302.3L859.4 302.3L859.8 302.6L860.2 302.7L860.6 302.7L861.0 303.1L861.4 304.0L861.8 304.2L862.2 303.7L862.6 303.1L863.0 302.6L863.4 302.3L863.8 302.5L864.2 303.0L864.6 303.8L865.0 304.1L865.4 303.7L865.8 303.5L866.2 303.4L866.6 303.5L867.0 303.7L867.4 304.0L867.8 304.4L868.2 304.0L868.6 302.6L869.0 302.0L869.4 302.2L869.8 302.1L870.2 301.6L870.6 301.9L871.0 303.0L871.4 303.3L871.8 302.9L872.2 302.6L872.6 302.4L873.0 302.3L873.4 302.3L873.8 302.6L874.2 303.4L874.6 303.5L875.0 303.1L875.4 302.8L875.8 302.6L876.2 302.9L876.6 303.8L877.0 303.7L877.4 302.5L877.8 301.9L878.2 301.8L878.6 302.7L879.0 304.6L879.4 304.8L879.8 303.4L880.2 302.6L880.6 302.5L881.0 302.4L881.4 302.3L881.8 302.4L882.2 302.7L882.6 303.0L882.7 303.1L883.0 303.4L883.0 303.5L883.2 303.7L883.4 303.7L883.5 303.7L883.7 303.7L883.8 303.7L884.0 303.7L884.2 303.6L884.5 303.6L884.6 303.5L884.7 303.5L885.0 303.3L885.0 303.2L885.2 303.0L885.4 302.8L885.5 302.8L885.7 302.5L885.8 302.3L886.0 302.1L886.2 301.7L886.5 301.5L886.6 301.8L886.7 302.1L887.0 302.6L887.0 302.7L887.2 303.1L887.4 303.5L887.5 303.5L887.7 303.9L887.8 304.1L888.0 304.3L888.2 304.3L888.5 304.1L888.6 304.0L888.7 304.0L889.0 303.7L889.0 303.6L889.2 303.3L889.4 303.0L889.5 302.9L889.7 302.8L889.8 302.9L890.0 303.1L890.2 303.4L890.5 303.5L890.6 303.3L890.7 303.1L891.0 302.8L891.0 302.7L891.2 302.4L891.4 302.5L891.5 302.5L891.7 302.6L891.8 302.6L892.0 302.7L892.2 302.4L892.5 302.0L892.6 301.8L892.7 301.6L893.0 301.7L893.0 301.7L893.2 301.9L893.4 302.2L893.5 302.2L893.7 302.4L893.8 302.5L894.0 302.6L894.2 302.7L894.5 302.8L894.6 302.7L894.7 302.7L895.0 302.6L895.0 302.5L895.2 302.4L895.4 302.7L895.5 302.7L895.7 303.0L895.8 303.1L896.0 303.3L896.2 303.6L896.5 303.9L896.6 304.1L896.7 304.3L897.0 304.3L897.0 304.3L897.2 304.1L897.4 304.0L897.5 303.9L897.7 303.6L897.8 303.4L898.0 303.1L898.2 302.5L898.5 302.1L898.6 302.0L898.7 301.9L899.0 301.8L899.0 301.7L899.2 301.6L899.4 301.6L899.5 301.6L899.7 301.6L899.8 301.6L900.0 301.6L900.2 301.5L900.5 301.4L900.6 301.3L900.7 301.2L901.0 301.4L901.0 301.4L901.2 301.6L901.4 301.9L901.5 301.9L901.7 302.1L901.8 302.1L902.0 302.2L902.2 302.3L902.5 302.3L902.6 302.2L902.7 302.2L903.0 302.1L903.0 302.0L903.2 301.9L903.4 301.9L903.5 301.9L903.7 301.8L903.8 301.8L904.0 301.7L904.2 301.7L904.5 301.6L904.6 301.5L904.7 301.5L905.0 301.3L905.0 301.3L905.2 301.1L905.4 301.0L905.5 300.9L905.7 300.7L905.8 300.6L906.0 300.4L906.2 300.1L906.5 299.9L906.6 300.3L906.7 300.5L907.0 301.1L907.0 301.2L907.2 301.7L907.4 301.3L907.5 301.3L907.7 300.8L907.8 300.6L908.0 300.3L908.2 299.4L908.5 298.5L908.6 297.8L908.7 297.4L909.0 296.7L909.0 296.6L909.2 296.1L909.4 295.6L909.5 295.4L909.7 294.7L909.8 294.5L910.0 294.0L910.2 293.2L910.5 292.3L910.6 291.8L910.7 291.5L911.0 290.6L911.0 290.4L911.2 289.7L911.4 289.2L911.5 289.1L911.7 288.6L911.8 288.4L912.0 288.2L912.2 287.6L912.5 287.1L912.6 287.0L912.7 286.9L913.0 287.0L913.0 287.1L913.2 287.4L913.4 287.9L913.5 288.0L913.7 288.8L913.8 289.2L914.0 289.7L914.2 290.8L914.5 291.8L914.6 292.5L914.7 292.9L915.0 293.9L915.0 294.1L915.2 294.9L915.4 295.6L915.5 295.7L915.7 296.4L915.8 296.7L916.0 297.1L916.2 297.6L916.5 298.1L916.6 298.4L916.7 298.5L917.0 298.8L917.0 298.8L917.2 299.0L917.4 299.1L917.5 299.1L917.7 299.1L917.8 299.0L918.0 298.8L918.2 298.6L918.5 298.4L918.6 298.9L918.7 299.1L919.0 299.8L919.0 299.9L919.2 300.4L919.4 301.0L919.5 301.2L919.7 301.9L919.8 302.2L920.0 302.6L920.2 302.2L920.5 301.6L920.6 301.2L920.7 301.0L921.0 300.7L921.0 300.7L921.2 300.8L921.4 300.8L921.5 300.8L921.7 301.1L921.8 301.3L922.0 301.7L922.2 302.2L922.5 302.6L922.6 302.5L922.7 302.4L923.0 302.1L923.0 302.1L923.2 301.9L923.4 301.8L923.5 301.8L923.7 301.6L923.8 301.6L924.0 301.5L924.2 302.0L924.5 302.7L924.6 303.1L924.7 303.3L925.0 303.4L925.0 303.4L925.2 303.2L925.4 303.0L925.5 302.9L925.7 302.8L925.8 302.8L926.0 302.8L926.2 302.9L926.5 302.9L926.6 302.6L926.7 302.5L927.0 302.1L927.0 302.0L927.2 301.7L927.4 302.0L927.5 302.0L927.7 302.4L927.8 302.5L928.0 302.7L928.2 302.8L928.5 302.7L928.6 302.7L928.7 302.7L929.0 302.8L929.0 302.8L929.2 302.9L929.4 303.0L929.5 303.1L929.7 303.2L929.8 303.2L930.0 303.3L930.2 303.4L930.5 303.5L930.6 303.5L930.7 303.5L931.0 303.5L931.0 303.5L931.2 303.5L931.4 303.3L931.5 303.3L931.7 303.0L931.8 302.8L932.0 302.7L932.2 302.8L932.5 302.9L932.6 303.0L932.7 303.1L933.0 302.8L933.0 302.7L933.2 302.2L933.4 301.8L933.5 301.7L933.7 301.6L933.8 301.8L934.0 302.1L934.2 302.7L934.5 303.1L934.6 303.2L934.7 303.2L935.0 303.2L935.0 303.2L935.2 303.2L935.4 302.9L935.5 302.9L935.7 302.5L935.8 302.4L936.0 302.2L936.2 302.0L936.5 301.9L936.6 301.8L936.7 301.8L937.0 301.9L937.0 301.9L937.2 302.1L937.4 302.3L937.5 302.3L937.7 302.3L937.8 302.2L938.0 302.0L938.2 301.6L938.5 301.4L938.6 301.7L938.7 301.9L939.0 302.4L939.0 302.5L939.2 302.9L939.4 302.9L939.5 302.9L939.7 302.9L939.8 302.9L940.0 302.8L940.2 302.5L940.5 302.1L940.6 301.9L940.7 301.8L941.0 301.8L941.0 301.9L941.2 302.1L941.4 302.4L941.5 302.4L941.7 302.7L941.8 302.9L942.0 303.0L942.2 303.4L942.5 303.6L942.6 303.6L943.0 303.6L943.4 303.6L943.8 303.6L944.2 303.3L944.6 302.7L945.0 302.4L945.4 302.3L945.8 302.2L946.2 302.2L946.6 302.4L947.0 302.9L947.4 303.6L947.8 304.5L948.2 304.7L948.6 304.2L949.0 304.0L949.4 304.1L949.8 304.1L950.2 304.0L950.6 303.2L951.0 301.7L951.4 301.3L951.8 302.0L952.2 302.3L952.6 302.2L953.0 302.5L953.4 303.4L953.8 303.9L954.2 304.1L954.6 303.6L955.0 302.5L955.4 302.0L955.8 302.4L956.2 302.7L956.6 303.0L957.0 302.8L957.4 302.3L957.8 302.0L958.2 301.9L958.6 301.9L959.0 301.9L959.4 302.2L959.8 303.0L960.2 302.9L960.6 302.0L961.0 302.1L961.4 303.1L961.8 303.4L962.2 302.9L962.6 302.8L963.0 303.1L963.4 303.4L963.8 303.8L964.2 303.5L964.6 302.4L965.0 301.8L965.4 301.7L965.8 302.0L966.2 302.6L966.6 302.5L967.0 301.8L967.4 301.5L967.8 301.7L968.2 301.9L968.6 302.2L969.0 302.4L969.4 302.6L969.8 302.3L970.2 301.6L970.6 301.4L971.0 301.9L971.4 302.3L971.8 302.8L972.2 303.2L972.6 303.6L973.0 303.0L973.4 301.3L973.8 301.3L974.2 302.9L974.6 303.6L975.0 303.4L975.4 302.8L975.8 301.8L976.2 301.2L976.6 301.0L977.0 301.4L977.4 302.4L977.8 302.6L978.2 302.2L978.6 302.1L979.0 302.4L979.4 302.7L979.8 303.1L980.2 302.9L980.6 302.3L981.0 302.1L981.4 302.4L981.8 302.6L982.2 302.8L982.6 303.0L983.0 303.2L983.4 303.5L983.8 303.9L984.2 304.1L984.6 304.1L985.0 303.7L985.4 303.0L985.8 302.5L986.2 302.2L986.6 302.8L987.0 304.1L987.4 304.3L987.8 303.4L988.2 302.9L988.6 302.8L989.0 302.4L989.4 301.6L989.8 301.7L990.2 302.6L990.6 302.7L991.0 301.9L991.4 301.6L991.8 301.8L992.2 301.6L992.6 301.2L993.0 301.2L993.4 301.6L993.8 301.9L994.2 302.2L994.6 302.0L995.0 301.2L995.4 300.9L995.8 301.2L996.2 301.6L996.6 302.0L997.0 301.9L997.4 301.3L997.8 301.0L998.2 301.0L998.6 301.1L999.0 301.3L999.4 301.3L999.8 301.0L1000.2 301.4L1000.6 302.4L1001.0 302.5L1001.4 301.7L1001.8 301.7L1002.2 302.6L1002.6 303.0L1003.0 303.1L1003.4 302.6L1003.8 301.6L1004.2 301.3L1004.6 301.9L1005.0 302.1L1005.4 301.8L1005.8 301.6L1006.2 301.2L1006.6 301.3L1007.0 301.6L1007.4 301.9L1007.8 301.9L1008.2 302.2L1008.6 302.6L1009.0 302.9L1009.4 303.1L1009.8 302.6L1010.2 301.6L1010.6 301.2L1011.0 301.6L1011.4 302.0L1011.8 302.4L1012.2 302.8L1012.6 303.1L1013.0 302.4L1013.4 300.6L1013.8 300.6L1014.2 302.4L1014.6 303.0L1015.0 302.3L1015.4 302.3L1015.8 303.2L1016.2 303.1L1016.6 302.1L1017.0 301.5L1017.4 301.3L1017.8 301.4L1018.2 301.9L1018.6 302.4L1019.0 302.9L1019.4 302.9L1019.8 302.4L1020.2 301.5L1020.6 300.3L1021.0 300.4L1021.4 301.9L1021.8 302.1L1022.2 301.0L1022.6 300.6L1023.0 300.9L1023.4 301.0L1023.8 300.9L1024.2 300.7L1024.6 300.3L1025.0 300.3L1025.4 300.6L1025.8 300.8L1026.2 300.9L1026.6 301.1L1027.0 301.2L1027.4 301.5L1027.8 301.8L1028.2 301.8L1028.6 301.7L1029.0 301.3L1029.4 300.7L1029.8 300.8L1030.2 301.4L1030.6 302.0L1031.0 302.6L1031.4 302.9L1031.8 302.9L1032.2 302.6L1032.6 302.2L1033.0 302.1L1033.4 302.4L1033.8 302.6L1034.2 302.7L1034.6 302.9L1035.0 303.1L1035.4 303.3L1035.8 303.5L1036.2 303.0L1036.6 302.0L1037.0 301.5L1037.4 301.6L1037.8 302.0L1038.2 302.9L1038.6 303.3L1039.0 303.4L1039.4 303.4L1039.8 303.4L1040.2 302.4L1040.6 300.4L1041.0 300.0L1041.4 301.0L1041.8 300.8L1042.2 299.3L1042.6 299.5L1043.0 301.5L1043.4 302.3L1043.8 302.0L1044.2 301.8L1044.6 301.8L1045.0 301.8L1045.4 301.7L1045.8 302.0L1046.2 302.7L1046.6 302.6L1047.0 301.8L1047.4 301.8L1047.8 302.4L1048.2 302.6L1048.6 302.4L1049.0 302.2L1049.4 302.1L1049.8 302.1L1050.2 302.1L1050.6 302.1L1051.0 301.9L1051.4 301.5L1051.8 300.9L1052.2 301.0L1052.6 301.9L1053.0 302.4L1053.4 302.4L1053.8 302.1L1054.2 301.7L1054.6 301.7L1055.0 302.1L1055.4 302.4L1055.8 302.5L1056.2 302.0L1056.6 300.9L1057.0 300.6L1057.4 301.2L1057.8 301.4L1058.2 301.2L1058.6 301.0L1059.0 300.8L1059.4 301.0L1059.8 301.6L1060.2 301.6L1060.6 301.0L1061.0 300.8L1061.4 301.0L1061.8 301.3L1062.2 301.6L1062.6 301.8L1063.0 301.9L1063.4 301.9L1063.8 301.9L1064.2 302.3L1064.6 303.3L1065.0 303.1L1065.4 301.7L1065.8 301.2L1066.2 301.6L1066.6 301.4L1067.0 300.7L1067.4 300.7L1067.8 301.5L1068.2 302.1L1068.6 302.5L1069.0 302.6L1069.4 302.7L1069.8 302.2L1070.2 301.3L1070.6 300.9L1071.0 301.1L1071.4 301.6L1071.8 302.3L1072.2 302.4L1072.6 301.7L1073.0 301.6L1073.4 302.1L1073.8 301.9L1074.2 300.9L1074.6 301.0L1075.0 302.2L1075.4 302.7L1075.8 302.5L1076.2 302.3L1076.6 302.0L1077.0 301.5L1077.4 300.9L1077.8 300.7L1078.2 301.0L1078.6 301.3L1079.0 301.4L1079.4 301.5L1079.8 301.6L1080.2 301.5L1080.6 301.3L1081.0 301.2L1081.4 301.1L1081.8 301.2L1082.2 301.4L1082.6 301.8L1083.0 302.4L1083.4 301.9L1083.8 300.1L1084.2 299.4L1084.6 299.8L1085.0 299.9L1085.4 299.8L1085.8 299.9L1086.2 300.4L1086.6 300.3L1087.0 299.8L1087.4 300.1L1087.8 301.2L1088.2 301.7L1088.6 301.5L1089.0 301.2L1089.4 301.1L1089.8 300.9L1090.2 300.7L1090.6 300.7L1091.0 301.2L1091.4 301.4L1091.8 301.4L1092.2 301.4L1092.6 301.5L1093.0 301.3L1093.4 300.7L1093.8 300.8L1094.2 301.5L1094.6 301.3L1095.0 300.2L1095.4 300.4L1095.8 301.7L1096.2 301.3L1096.6 299.2L1097.0 298.7L1097.4 299.9L1097.8 300.4L1098.2 300.1L1098.6 300.4L1099.0 301.4L1099.4 301.3L1099.8 300.2L1100.2 300.4L1100.6 302.1L1101.0 302.1L1101.4 300.4L1101.8 300.4L1102.2 302.2L1102.6 302.7L1103.0 301.9L1103.4 301.4L1103.8 301.2L1104.2 301.2L1104.6 301.4L1105.0 301.9L1105.4 302.8L1105.8 302.9L1106.2 302.3L1106.6 301.1L1107.0 299.6L1107.4 299.6L1107.8 301.4L1108.2 302.0L1108.6 301.5L1109.0 300.8L1109.4 299.8L1109.8 300.0L1110.2 301.1L1110.6 301.2L1111.0 300.3L1111.4 300.1L1111.8 300.8L1112.2 301.2L1112.6 301.2L1113.0 301.0L1113.4 300.5L1113.8 300.6L1114.2 301.3L1114.6 301.2L1115.0 300.3L1115.4 300.2L1115.8 300.8L1116.2 300.9L1116.6 300.5L1117.0 300.4L1117.4 300.6L1117.8 301.2L1118.2 302.3L1118.6 302.3L1119.0 301.4L1119.4 300.7L1119.8 300.1L1120.2 300.0L1120.6 300.5L1121.0 300.6L1121.4 300.2L1121.8 300.3L1122.2 300.7L1122.6 300.9L1123.0 300.9L1123.4 301.0L1123.8 300.9L1124.2 300.9L1124.6 300.9L1125.0 300.7L1125.4 300.4L1125.8 300.5L1126.2 301.0L1126.6 301.4L1127.0 301.7L1127.4 301.4L1127.8 300.6L1128.2 300.3L1128.6 300.5L1129.0 300.7L1129.4 300.8L1129.8 301.1L1130.2 301.7L1130.6 301.9L1131.0 301.8L1131.4 301.3L1131.8 300.4L1132.2 300.2L1132.6 300.6L1133.0 300.4L1133.4 299.6L1133.8 299.3L1134.2 299.6L1134.6 299.9L1135.0 300.4L1135.4 300.8L1135.8 301.1L1136.2 301.3L1136.6 301.5L1137.0 301.3L1137.4 300.6L1137.8 300.0L1138.2 299.5L1138.6 299.7L1139.0 300.5L1139.4 300.8L1139.8 300.5L1140.2 300.5L1140.6 300.8L1141.0 300.9L1141.4 300.8L1141.8 300.8L1142.2 301.1L1142.6 301.2L1143.0 301.2L1143.4 301.2L1143.8 301.3L1144.2 301.0L1144.6 300.3L1144.8 300.1L1145.0 300.4L1145.1 300.5L1145.3 301.0L1145.4 301.1L1145.6 301.4L1145.8 301.1L1145.8 301.0L1146.1 300.5L1146.2 300.3L1146.3 300.0L1146.6 300.1L1146.8 300.3L1147.0 300.4L1147.1 300.4L1147.3 300.8L1147.4 300.9L1147.6 301.4L1147.8 301.8L1147.8 301.9L1148.1 302.1L1148.2 301.9L1148.3 301.6L1148.6 301.1L1148.8 300.6L1149.0 300.3L1149.1 300.2L1149.3 299.7L1149.4 299.6L1149.6 299.2L1149.8 299.8L1149.8 300.0L1150.1 300.8L1150.2 301.2L1150.3 301.7L1150.6 301.7L1150.8 301.5L1151.0 301.4L1151.1 301.4L1151.3 301.3L1151.4 301.3L1151.6 301.4L1151.8 301.4L1151.8 301.4L1152.1 301.3L1152.2 301.2L1152.3 301.0L1152.6 300.7L1152.8 300.5L1153.0 300.5L1153.1 300.5L1153.3 300.5L1153.4 300.5L1153.6 300.6L1153.8 300.4L1153.8 300.4L1154.1 300.2L1154.2 300.1L1154.3 300.0L1154.6 299.8L1154.8 299.7L1155.0 299.6L1155.1 299.5L1155.3 299.9L1155.4 300.0L1155.6 300.6L1155.8 301.1L1155.8 301.2L1156.1 301.4L1156.2 301.2L1156.3 300.8L1156.6 300.2L1156.8 299.7L1157.0 299.7L1157.1 299.6L1157.3 299.6L1157.4 299.6L1157.6 299.6L1157.8 299.5L1157.8 299.5L1158.1 299.5L1158.2 299.5L1158.3 299.5L1158.6 300.1L1158.8 300.8L1159.0 301.2L1159.1 301.5L1159.3 301.6L1159.4 301.5L1159.6 301.3L1159.8 301.0L1159.8 300.9L1160.1 300.6L1160.2 300.4L1160.3 300.2L1160.6 299.7L1160.8 299.4L1161.0 299.5L1161.1 299.5L1161.3 299.6L1161.4 299.6L1161.6 299.6L1161.8 299.8L1161.8 299.8L1162.1 299.9L1162.2 300.0L1162.3 300.1L1162.6 300.2L1162.8 300.2L1163.0 300.3L1163.1 300.3L1163.3 299.9L1163.4 299.7L1163.6 299.0L1163.8 298.4L1163.8 298.2L1164.1 298.0L1164.2 298.3L1164.3 298.7L1164.6 299.4L1164.8 299.9L1165.0 299.7L1165.1 299.5L1165.3 299.1L1165.4 299.0L1165.6 298.6L1165.8 298.4L1165.8 298.4L1166.1 298.1L1166.2 298.0L1166.3 297.8L1166.6 297.7L1166.8 297.7L1167.0 297.6L1167.1 297.6L1167.3 297.7L1167.4 297.7L1167.6 297.8L1167.8 297.9L1167.8 298.0L1168.1 298.1L1168.2 298.1L1168.3 298.1L1168.6 298.1L1168.8 297.9L1169.0 297.4L1169.1 297.1L1169.3 296.2L1169.4 296.0L1169.6 295.3L1169.8 295.1L1169.8 295.0L1170.1 294.7L1170.2 294.6L1170.3 294.3L1170.6 293.5L1170.8 292.6L1171.0 292.0L1171.1 291.6L1171.3 291.1L1171.4 291.1L1171.6 291.0L1171.8 290.8L1171.8 290.8L1172.1 290.5L1172.2 290.3L1172.3 290.1L1172.6 289.6L1172.8 289.0L1173.0 288.3L1173.1 287.8L1173.3 286.6L1173.4 286.4L1173.6 285.5L1173.8 285.5L1173.8 285.5L1174.1 285.6L1174.2 285.6L1174.3 285.8L1174.6 286.1L1174.8 286.5L1175.0 286.9L1175.1 287.1L1175.3 287.0L1175.4 286.9L1175.6 286.5L1175.8 286.2L1175.8 286.1L1176.1 286.2L1176.2 286.6L1176.3 287.1L1176.6 288.1L1176.8 289.1L1177.0 289.6L1177.1 289.9L1177.3 290.8L1177.4 291.0L1177.6 291.7L1177.8 291.6L1177.8 291.5L1178.1 291.4L1178.2 291.3L1178.3 291.2L1178.6 291.9L1178.8 292.8L1179.0 293.3L1179.1 293.6L1179.3 294.3L1179.4 294.4L1179.6 294.9L1179.8 295.3L1179.8 295.4L1180.1 296.0L1180.2 296.2L1180.3 296.6L1180.6 297.1L1180.8 297.5L1181.0 297.2L1181.1 297.1L1181.3 296.6L1181.4 296.5L1181.6 296.2L1181.8 296.9L1181.8 297.1L1182.1 298.1L1182.2 298.4L1182.3 299.0L1182.6 299.1L1182.8 298.9L1183.0 298.9L1183.1 298.8L1183.3 299.0L1183.4 299.1L1183.6 299.4L1183.8 299.7L1183.8 299.7L1184.1 300.0L1184.2 300.0L1184.3 300.0L1184.6 300.1L1184.8 300.1L1185.0 300.0L1185.1 299.9L1185.3 299.7L1185.4 299.6L1185.6 299.5L1185.8 299.5L1185.8 299.6L1186.1 299.7L1186.2 299.7L1186.3 299.7L1186.6 299.2L1186.8 298.6L1187.0 298.2L1187.1 297.9L1187.3 297.7L1187.4 297.7L1187.6 297.9L1187.8 298.0L1187.8 298.0L1188.1 298.1L1188.2 298.2L1188.3 298.3L1188.6 298.4L1188.8 298.5L1189.0 298.7L1189.1 298.8L1189.3 299.0L1189.4 299.0L1189.6 299.2L1189.8 299.5L1189.8 299.6L1190.1 300.0L1190.2 300.2L1190.3 300.4L1190.6 299.9L1190.8 299.0L1191.0 298.5L1191.1 298.2L1191.3 298.1L1191.4 298.2L1191.6 298.6L1191.8 299.0L1191.8 299.1L1192.1 299.2L1192.2 299.1L1192.3 298.9L1192.6 298.6L1192.8 298.3L1193.0 298.3L1193.1 298.3L1193.3 298.2L1193.4 298.2L1193.6 298.1L1193.8 298.9L1193.8 299.1L1194.1 300.1L1194.2 300.4L1194.3 301.0L1194.6 300.9L1194.8 300.4L1195.0 300.2L1195.1 300.0L1195.3 300.1L1195.4 300.2L1195.6 300.6L1195.8 301.0L1195.8 301.1L1196.1 301.3L1196.2 301.3L1196.3 301.2L1196.6 301.1L1196.8 300.8L1197.0 300.4L1197.1 300.2L1197.3 299.5L1197.4 299.4L1197.6 298.8L1197.8 298.6L1197.8 298.6L1198.1 298.3L1198.2 298.1L1198.3 298.0L1198.6 298.9L1198.8 300.1L1199.0 300.9L1199.1 301.4L1199.3 301.4L1199.4 301.2L1199.6 300.6L1199.8 300.0L1199.8 299.8L1200.1 299.3L1200.2 299.2L1200.3 299.1L1200.6 298.8L1200.8 298.8L1201.0 299.1L1201.1 299.3L1201.3 299.9L1201.4 300.0L1201.6 300.5L1201.8 300.3L1201.8 300.3L1202.1 300.1L1202.2 300.1L1202.3 300.0L1202.6 299.7L1202.8 299.5L1203.0 299.3L1203.1 299.2L1203.3 299.2L1203.4 299.2L1203.6 299.3L1203.8 299.4L1203.8 299.4L1204.1 299.5L1204.2 299.6L1204.3 299.7L1204.6 299.8L1205.0 299.9L1205.4 299.9L1205.8 300.0L1206.2 300.4L1206.6 300.2L1207.0 299.7L1207.4 299.4L1207.8 299.4L1208.2 299.7L1208.6 300.1L1209.0 300.3L1209.4 300.1L1209.8 300.3L1210.2 300.6L1210.6 300.5L1211.0 299.8L1211.4 299.5L1211.8 299.6L1212.2 299.4L1212.6 298.8L1213.0 299.2L1213.4 300.6L1213.8 300.5L1214.2 299.0L1214.6 298.7L1215.0 299.5L1215.4 299.6L1215.8 299.1L1216.2 299.1L1216.6 299.7L1217.0 300.1L1217.4 300.3L1217.8 299.8L1218.2 298.6L1218.6 298.4L1219.0 299.1L1219.4 299.1L1219.8 298.3L1220.2 298.7L1220.6 300.3L1221.0 300.6L1221.4 299.7L1221.8 298.9L1222.2 298.3L1222.6 298.3L1223.0 298.7L1223.4 299.4L1223.8 300.4L1224.2 301.0L1224.6 301.1L1225.0 301.0L1225.4 300.9L1225.8 300.4L1226.2 299.3L1226.6 299.0L1227.0 299.3L1227.4 299.9L1227.8 300.8L1228.2 300.6L1228.6 299.4L1229.0 298.9L1229.4 299.1L1229.8 299.1L1230.2 298.8L1230.6 298.5L1231.0 298.4L1231.4 299.0L1231.8 300.1L1232.2 300.6L1232.6 300.3L1233.0 300.1L1233.4 300.0L1233.8 300.0L1234.2 300.0L1234.6 300.2L1235.0 300.4L1235.4 300.6L1235.8 300.9L1236.2 300.6L1236.6 299.8L1237.0 299.4L1237.4 299.2L1237.8 298.9L1238.2 298.6L1238.6 299.0L1239.0 300.0L1239.4 300.1L1239.8 299.3L1240.2 298.7L1240.6 298.2L1241.0 298.2L1241.4 298.8L1241.8 299.2L1242.2 299.4L1242.6 299.6L1243.0 300.0L1243.4 300.3L1243.8 300.3L1244.2 300.0L1244.6 299.1L1245.0 298.6L1245.4 298.6L1245.8 298.7L1246.2 298.9L1246.6 298.8L1247.0 298.4L1247.4 298.4L1247.8 299.0L1248.2 299.4L1248.6 299.6L1249.0 299.7L1249.4 299.5L1249.8 298.9L1250.2 298.1L1250.6 297.8L1251.0 298.0L1251.4 298.7L1251.8 300.0L1252.2 300.0L1252.6 298.8L1253.0 298.7L1253.4 299.6L1253.8 300.0L1254.2 299.9L1254.6 299.6L1255.0 299.2L1255.4 298.8L1255.8 298.4L1256.2 298.5L1256.6 299.1L1257.0 299.2L1257.4 298.6L1257.8 298.5L1258.2 298.9L1258.6 299.1L1259.0 299.2L1259.4 299.1L1259.8 298.7L1260.2 298.6L1260.6 298.8L1261.0 298.9L1261.4 298.9L1261.8 298.6L1262.2 298.2L1262.6 298.2L1263.0 298.7L1263.4 298.8L1263.8 298.6L1264.2 298.2L1264.6 297.6L1265.0 297.7L1265.4 298.4L1265.8 298.8L1266.2 298.8L1266.6 298.7L1267.0 298.6L1267.4 298.1L1267.8 297.4L1268.2 297.7L1268.6 299.1L1269.0 299.8L1269.4 299.8L1269.8 299.7L1270.2 299.7L1270.6 299.6L1271.0 299.5L1271.4 299.0L1271.8 298.2L1272.2 298.1L1272.6 298.8L1273.0 298.9L1273.4 298.4L1273.8 298.9L1274.2 300.4L1274.6 300.5L1275.0 299.2L1275.4 298.8L1275.8 299.4L1276.2 299.1L1276.6 298.0L1277.0 297.5L1277.4 297.7L1277.8 297.9L1278.2 298.3L1278.6 298.7L1279.0 299.3L1279.4 299.6L1279.8 299.5L1280.2 299.4L1280.6 299.3L1281.0 298.7L1281.4 297.6L1281.8 297.8L1282.2 299.3L1282.6 299.5L1283.0 298.5L1283.4 298.6L1283.8 299.9L1284.2 300.6L1284.6 300.7L1285.0 300.5L1285.4 299.9L1285.8 299.7L1286.2 299.8L1286.6 299.3L1287.0 298.1L1287.4 298.5L1287.8 300.4L1288.2 300.8L1288.6 299.6L1289.0 299.2L1289.4 299.6L1289.8 299.3L1290.2 298.4L1290.6 298.1L1291.0 298.5L1291.4 298.4L1291.8 297.9L1292.2 297.8L1292.6 298.3L1293.0 298.6L1293.4 298.7L1293.8 298.8L1294.2 298.9L1294.6 299.3L1295.0 299.8L1295.4 299.9L1295.8 299.4L1296.2 299.1L1296.6 299.0L1297.0 298.9L1297.4 298.8L1297.8 299.2L1298.2 300.2L1298.6 300.0L1299.0 298.7L1299.4 298.5L1299.8 299.4L1300.2 299.1L1300.6 297.5L1301.0 297.0L1301.4 297.5L1301.8 298.1L1302.2 298.7L1302.6 298.9L1303.0 298.6L1303.4 299.3L1303.8 300.8L1304.2 301.5L1304.6 301.3L1305.0 300.2L1305.4 298.1L1305.8 297.2L1306.2 297.4L1306.6 297.7L1307.0 298.2L1307.4 298.9L1307.8 299.8L1308.2 300.1L1308.6 299.8L1309.0 299.5L1309.4 299.1L1309.8 298.4L1310.2 297.6L1310.6 297.3L1311.0 297.5L1311.4 297.2L1311.8 296.3L1312.2 296.1L1312.6 296.7L1313.0 297.4L1313.4 298.4L1313.8 299.0L1314.2 299.2L1314.6 298.7L1315.0 297.7L1315.4 297.5L1315.8 298.2L1316.2 298.9L1316.6 299.7L1317.0 299.7L1317.4 299.0L1317.8 298.5L1318.2 298.2L1318.6 298.3L1319.0 298.8L1319.4 299.0L1319.8 298.9L1320.2 298.8L1320.4 298.7L1320.6 298.6L1320.7 298.5L1320.9 298.4L1321.0 298.3L1321.2 298.2L1321.4 298.0L1321.7 297.8L1321.8 297.9L1321.9 297.9L1322.2 297.9L1322.2 297.9L1322.4 297.9L1322.6 298.1L1322.7 298.1L1322.9 298.2L1323.0 298.3L1323.2 298.4L1323.4 298.3L1323.7 298.1L1323.8 297.9L1323.9 297.9L1324.2 298.1L1324.2 298.3L1324.4 298.7L1324.6 299.2L1324.7 299.3L1324.9 299.6L1325.0 299.5L1325.2 299.5L1325.4 299.3L1325.7 299.2L1325.8 299.2L1325.9 299.3L1326.2 299.3L1326.2 299.3L1326.4 299.4L1326.6 299.6L1326.7 299.7L1326.9 300.0L1327.0 300.1L1327.2 300.2L1327.4 300.2L1327.7 300.0L1327.8 300.0L1327.9 299.9L1328.2 299.8L1328.2 299.8L1328.4 299.8L1328.6 299.7L1328.7 299.7L1328.9 299.5L1329.0 299.4L1329.2 299.2L1329.4 298.9L1329.7 298.6L1329.8 298.5L1329.9 298.4L1330.2 298.2L1330.2 298.2L1330.4 298.0L1330.6 298.6L1330.7 298.8L1330.9 299.6L1331.0 299.9L1331.2 300.4L1331.4 299.8L1331.7 298.8L1331.8 298.3L1331.9 297.9L1332.2 297.5L1332.2 297.5L1332.4 297.5L1332.6 297.5L1332.7 297.5L1332.9 297.5L1333.0 297.5L1333.2 297.4L1333.4 297.3L1333.7 297.3L1333.8 297.5L1333.9 297.7L1334.2 298.0L1334.2 298.1L1334.4 298.3L1334.6 298.4L1334.7 298.4L1334.9 298.4L1335.0 298.4L1335.2 298.5L1335.4 298.6L1335.7 298.8L1335.8 298.9L1335.9 299.0L1336.2 298.8L1336.2 298.7L1336.4 298.4L1336.6 298.1L1336.7 298.0L1336.9 297.6L1337.0 297.4L1337.2 297.1L1337.4 296.6L1337.7 296.4L1337.8 296.7L1337.9 297.0L1338.2 297.6L1338.2 297.7L1338.4 298.2L1338.6 298.4L1338.7 298.4L1338.9 298.6L1339.0 298.7L1339.2 298.8L1339.4 298.6L1339.7 298.3L1339.8 298.1L1339.9 298.0L1340.2 297.8L1340.2 297.8L1340.4 297.7L1340.6 297.7L1340.7 297.7L1340.9 297.7L1341.0 297.8L1341.2 297.9L1341.4 298.1L1341.7 298.3L1341.8 298.4L1341.9 298.5L1342.2 298.8L1342.2 298.8L1342.4 299.0L1342.6 298.6L1342.7 298.5L1342.9 298.0L1343.0 297.8L1343.2 297.5L1343.4 297.0L1343.7 296.5L1343.8 296.2L1343.9 296.1L1344.2 296.0L1344.2 296.0L1344.4 296.2L1344.6 296.3L1344.7 296.3L1344.9 296.4L1345.0 296.4L1345.2 296.4L1345.4 296.4L1345.7 296.2L1345.8 295.8L1345.9 295.6L1346.2 294.9L1346.2 294.7L1346.4 294.1L1346.6 294.6L1346.7 294.7L1346.9 295.2L1347.0 295.4L1347.2 295.8L1347.4 295.2L1347.7 294.4L1347.8 294.0L1347.9 293.6L1348.2 293.4L1348.2 293.4L1348.4 293.4L1348.6 293.5L1348.7 293.5L1348.9 293.4L1349.0 293.2L1349.2 293.0L1349.4 292.6L1349.7 292.3L1349.8 292.1L1349.9 291.9L1350.2 291.7L1350.2 291.6L1350.4 291.5L1350.6 292.0L1350.7 292.1L1350.9 292.8L1351.0 293.1L1351.2 293.6L1351.4 293.3L1351.7 292.9L1351.8 292.7L1351.9 292.5L1352.2 292.5L1352.2 292.6L1352.4 292.8L1352.6 293.0L1352.7 293.1L1352.9 293.5L1353.0 293.8L1353.2 294.1L1353.4 294.7L1353.7 295.3L1353.8 295.6L1353.9 295.7L1354.2 296.2L1354.2 296.2L1354.4 296.5L1354.6 296.5L1354.7 296.5L1354.9 296.4L1355.0 296.4L1355.2 296.3L1355.4 296.2L1355.7 296.0L1355.8 295.9L1355.9 295.8L1356.2 296.1L1356.2 296.2L1356.4 296.7L1356.6 297.1L1356.7 297.3L1356.9 297.6L1357.0 297.6L1357.2 297.7L1357.4 297.7L1357.7 297.8L1357.8 298.1L1357.9 298.3L1358.2 298.8L1358.2 298.9L1358.4 299.2L1358.6 298.7L1358.7 298.5L1358.9 297.8L1359.0 297.6L1359.2 297.1L1359.4 297.1L1359.7 297.3L1359.8 297.3L1359.9 297.4L1360.2 297.3L1360.2 297.3L1360.4 297.1L1360.6 296.9L1360.7 296.8L1360.9 296.6L1361.0 296.5L1361.2 296.3L1361.4 296.0L1361.7 295.9L1361.8 296.2L1361.9 296.4L1362.2 296.9L1362.2 297.0L1362.4 297.3L1362.6 297.5L1362.7 297.6L1362.9 297.8L1363.0 297.9L1363.2 298.1L1363.4 297.6L1363.7 297.1L1363.8 296.7L1363.9 296.5L1364.2 296.3L1364.2 296.3L1364.4 296.4L1364.6 296.5L1364.7 296.5L1364.9 296.5L1365.0 296.5L1365.2 296.4L1365.4 296.2L1365.7 296.2L1365.8 296.7L1365.9 297.0L1366.2 297.8L1366.2 297.9L1366.4 298.6L1366.6 298.1L1366.7 298.0L1366.9 297.3L1367.0 297.1L1367.2 296.7L1367.4 296.9L1367.7 297.3L1367.8 297.5L1367.9 297.6L1368.2 297.5L1368.2 297.4L1368.4 297.1L1368.6 296.7L1368.7 296.6L1368.9 296.4L1369.0 296.6L1369.2 296.7L1369.4 297.0L1369.7 297.2L1369.8 297.1L1369.9 297.0L1370.2 296.8L1370.2 296.7L1370.4 296.5L1370.6 296.1L1370.7 296.0L1370.9 295.4L1371.0 295.2L1371.2 294.9L1371.4 295.4L1371.7 296.1L1371.8 296.6L1371.9 296.9L1372.2 297.3L1372.2 297.3L1372.4 297.4L1372.6 297.5L1372.7 297.6L1372.9 297.3L1373.0 297.0L1373.2 296.5L1373.4 295.7L1373.7 295.1L1373.8 295.5L1373.9 295.7L1374.2 296.3L1374.2 296.4L1374.4 296.9L1374.6 296.8L1374.7 296.8L1374.9 296.7L1375.0 296.7L1375.2 296.6L1375.4 296.5L1375.7 296.2L1375.8 296.1L1375.9 296.0L1376.2 296.1L1376.2 296.2L1376.4 296.4L1376.6 296.6L1376.7 296.6L1376.9 296.5L1377.0 296.3L1377.2 296.0L1377.4 295.5L1377.7 295.2L1377.8 295.6L1377.9 295.9L1378.2 296.5L1378.2 296.7L1378.4 297.2L1378.6 297.5L1378.7 297.5L1378.9 297.8L1379.0 297.9L1379.2 298.1L1379.4 297.5L1379.7 296.8L1379.8 296.3L1379.9 296.0L1380.2 295.9L1380.2 296.0L1380.6 296.6L1381.0 297.2L1381.4 297.9L1381.8 298.0L1382.2 297.3L1382.6 296.8L1383.0 296.5L1383.4 296.2L1383.8 296.0L1384.2 296.2L1384.6 296.7L1385.0 296.9L1385.4 296.7L1385.8 296.8L1386.2 297.2L1386.6 296.9L1387.0 295.8L1387.4 295.9L1387.8 297.2L1388.2 297.4L1388.6 296.7L1389.0 296.6L1389.4 297.1L1389.8 297.0L1390.2 296.3L1390.6 295.8L1391.0 295.5L1391.4 295.5L1391.8 295.9L1392.2 295.9L1392.6 295.7L1393.0 295.8L1393.4 296.1L1393.8 296.4L1394.2 296.9L1394.6 297.3L1395.0 297.5L1395.4 297.4L1395.8 296.9L1396.2 296.5L1396.6 296.1L1397.0 296.0L1397.4 296.0L1397.8 296.3L1398.2 296.8L1398.6 297.2L1399.0 297.4L1399.4 297.2L1399.8 296.4L1400.2 296.1L1400.6 296.2L1401.0 296.1L1401.4 295.8L1401.8 295.9L1402.2 296.4L1402.6 296.8L1403.0 297.2L1403.4 296.4L1403.8 294.4L1404.2 294.3L1404.6 295.8L1405.0 296.4L1405.4 296.0L1405.8 295.4L1406.2 294.5L1406.6 294.7L1407.0 296.0L1407.4 296.6L1407.8 296.4L1408.2 296.4L1408.6 296.6L1409.0 296.3L1409.4 295.4L1409.8 295.9L1410.2 297.6L1410.6 298.0L1411.0 297.0L1411.4 296.3L1411.8 296.1L1412.2 296.5L1412.6 297.4L1413.0 297.6L1413.4 297.2L1413.8 297.0L1414.2 297.1L1414.6 297.2L1415.0 297.4L1415.4 296.7L1415.8 295.1L1416.2 295.2L1416.6 297.1L1417.0 297.5L1417.4 296.5L1417.8 296.1L1418.2 296.4L1418.6 296.8L1419.0 297.1L1419.4 296.8L1419.8 296.0L1420.2 295.8L1420.6 296.4L1421.0 296.7L1421.4 296.9L1421.8 296.9L1422.2 296.4L1422.6 296.4L1423.0 296.6L1423.4 296.2L1423.8 295.2L1424.2 294.8L1424.6 295.0L1425.0 295.1L1425.4 295.1L1425.8 295.5L1426.2 296.3L1426.6 297.5L1427.0 299.2L1427.4 299.1L1427.8 297.4L1428.2 296.4L1428.6 296.2L1429.0 296.1L1429.4 296.2L1429.8 296.4L1430.2 297.0L1430.6 297.1L1431.0 297.0L1431.4 296.5L1431.8 295.5L1432.2 295.6L1432.6 296.7L1433.0 297.0L1433.4 296.4L1433.8 296.4L1434.2 296.8L1434.6 296.3L1435.0 294.9L1435.4 294.3L1435.8 294.5L1436.2 295.2L1436.6 296.2L1437.0 296.2L1437.4 295.0L1437.8 294.9L1438.2 296.0L1438.6 296.5L1439.0 296.5L1439.4 296.4L1439.8 296.3L1440.2 296.3L1440.6 296.4L1441.0 296.5L1441.4 296.4L1441.8 296.4L1442.2 296.5L1442.6 296.3L1443.0 295.9L1443.4 295.8L1443.8 296.0L1444.2 296.8L1444.6 298.3L1445.0 298.5L1445.4 297.6L1445.8 297.1L1446.2 296.8L1446.6 296.6L1447.0 296.5L1447.4 296.1L1447.8 295.6L1448.2 295.5L1448.6 296.0L1449.0 296.1L1449.4 295.9L1449.8 296.0L1450.2 296.6L1450.6 296.4L1451.0 295.5L1451.4 294.7L1451.8 293.9L1452.2 294.0L1452.6 294.9L1453.0 295.7L1453.4 296.3L1453.8 297.0L1454.2 297.9L1454.6 298.0L1455.0 297.2L1455.4 296.4L1455.8 295.4L1456.2 295.0L1456.6 295.4L1457.0 295.4L1457.4 295.0L1457.8 295.0L1458.2 295.4L1458.6 295.4L1459.0 295.0L1459.4 294.6L1459.8 294.2L1460.2 294.6L1460.6 295.6L1461.0 296.0L1461.4 295.9L1461.8 295.7L1462.2 295.5L1462.6 295.5L1463.0 295.8L1463.2 295.9L1463.4 296.3L1463.5 296.4L1463.7 296.9L1463.8 297.1L1464.0 297.4L1464.2 297.0L1464.5 296.4L1464.6 296.0L1464.7 295.8L1465.0 295.5L1465.0 295.4L1465.2 295.3L1465.4 295.1L1465.5 295.1L1465.7 295.2L1465.8 295.3L1466.0 295.5L1466.2 295.9L1466.5 296.0L1466.6 295.6L1466.7 295.2L1467.0 294.4L1467.0 294.3L1467.2 293.6L1467.4 294.2L1467.5 294.4L1467.7 295.1L1467.8 295.4L1468.0 295.8L1468.2 295.6L1468.5 295.1L1468.6 294.8L1468.7 294.6L1469.0 294.3L1469.0 294.3L1469.2 294.3L1469.4 294.3L1469.5 294.3L1469.7 294.3L1469.8 294.4L1470.0 294.6L1470.2 294.9L1470.5 295.2L1470.6 295.4L1470.7 295.6L1471.0 296.1L1471.0 296.2L1471.2 296.5L1471.4 295.9L1471.5 295.8L1471.7 295.0L1471.8 294.7L1472.0 294.2L1472.2 294.4L1472.5 294.9L1472.6 295.2L1472.7 295.4L1473.0 295.5L1473.0 295.4L1473.2 295.3L1473.4 295.1L1473.5 295.0L1473.7 294.7L1473.8 294.4L1474.0 294.1L1474.2 293.5L1474.5 293.1L1474.6 293.5L1474.7 293.8L1475.0 294.5L1475.0 294.6L1475.2 295.2L1475.4 294.7L1475.5 294.6L1475.7 294.0L1475.8 293.7L1476.0 293.4L1476.2 293.0L1476.5 292.8L1476.6 292.6L1476.7 292.5L1477.0 292.5L1477.0 292.5L1477.2 292.6L1477.4 292.7L1477.5 292.8L1477.7 292.8L1477.8 292.8L1478.0 292.8L1478.2 292.7L1478.5 292.7L1478.6 292.9L1478.7 293.1L1479.0 293.4L1479.0 293.4L1479.2 293.7L1479.4 293.3L1479.5 293.2L1479.7 292.6L1479.8 292.4L1480.0 292.1L1480.2 292.5L1480.5 293.0L1480.6 293.4L1480.7 293.6L1481.0 293.5L1481.0 293.4L1481.2 292.9L1481.4 292.5L1481.5 292.4L1481.7 291.8L1481.8 291.7L1482.0 291.4L1482.2 290.9L1482.5 290.4L1482.6 290.3L1482.7 290.2L1483.0 289.9L1483.0 289.8L1483.2 289.6L1483.4 289.6L1483.5 289.6L1483.7 289.7L1483.8 289.7L1484.0 289.7L1484.2 288.9L1484.5 287.8L1484.6 287.1L1484.7 286.7L1485.0 286.0L1485.0 285.9L1485.2 285.5L1485.4 285.1L1485.5 285.0L1485.7 284.7L1485.8 284.6L1486.0 284.6L1486.2 284.4L1486.5 284.3L1486.6 284.2L1486.7 284.2L1487.0 284.0L1487.0 284.0L1487.2 283.9L1487.4 283.2L1487.5 283.1L1487.7 282.2L1487.8 281.9L1488.0 281.4L1488.2 280.6L1488.5 279.8L1488.6 279.4L1488.7 279.0L1489.0 278.2L1489.0 278.1L1489.2 277.4L1489.4 276.8L1489.5 276.6L1489.7 275.6L1489.8 275.0L1490.0 274.2L1490.2 272.9L1490.5 271.9L1490.6 271.8L1490.7 271.8L1491.0 271.8L1491.0 271.8L1491.2 271.8L1491.4 271.0L1491.5 270.8L1491.7 269.9L1491.8 269.6L1492.0 269.0L1492.2 269.3L1492.5 269.8L1492.6 270.2L1492.7 270.5L1493.0 270.5L1493.0 270.4L1493.2 270.2L1493.4 270.0L1493.5 270.0L1493.7 269.9L1493.8 270.0L1494.0 270.1L1494.2 270.3L1494.5 270.7L1494.6 271.0L1494.7 271.2L1495.0 271.8L1495.0 272.0L1495.2 272.5L1495.4 272.9L1495.5 273.0L1495.7 273.6L1495.8 273.9L1496.0 274.2L1496.2 274.9L1496.5 275.6L1496.6 276.0L1496.7 276.3L1497.0 277.0L1497.0 277.2L1497.2 277.8L1497.4 278.4L1497.5 278.6L1497.7 279.2L1497.8 279.4L1498.0 279.7L1498.2 280.1L1498.5 280.5L1498.6 280.8L1498.7 281.0L1499.0 281.4L1499.0 281.5L1499.2 281.9L1499.4 282.8L1499.5 283.0L1499.7 284.2L1499.8 284.6L1500.0 285.3L1500.2 286.2L1500.5 287.1L1500.6 287.6L1500.7 288.0L1501.0 288.5L1501.0 288.6L1501.2 288.8L1501.4 289.0L1501.5 289.1L1501.7 289.3L1501.8 289.3L1502.0 289.3L1502.2 289.2L1502.5 289.3L1502.6 289.7L1502.7 289.9L1503.0 290.5L1503.0 290.6L1503.2 291.0L1503.4 290.9L1503.5 290.9L1503.7 290.8L1503.8 290.8L1504.0 290.7L1504.2 291.1L1504.5 291.5L1504.6 291.8L1504.7 292.0L1505.0 292.1L1505.0 292.0L1505.2 291.9L1505.4 291.8L1505.5 291.8L1505.7 291.8L1505.8 292.0L1506.0 292.2L1506.2 292.5L1506.5 293.0L1506.6 293.4L1506.7 293.7L1507.0 294.4L1507.0 294.5L1507.2 295.0L1507.4 294.8L1507.5 294.7L1507.7 294.5L1507.8 294.3L1508.0 294.2L1508.2 294.3L1508.5 294.7L1508.6 294.8L1508.7 295.0L1509.0 294.7L1509.0 294.6L1509.2 294.1L1509.4 293.5L1509.5 293.4L1509.7 293.1L1509.8 293.1L1510.0 293.1L1510.2 293.2L1510.5 293.4L1510.6 293.5L1510.7 293.6L1511.0 293.9L1511.0 293.9L1511.2 294.1L1511.4 294.3L1511.5 294.4L1511.7 294.6L1511.8 294.7L1512.0 294.8L1512.2 294.7L1512.5 294.5L1512.6 294.4L1512.7 294.3L1513.0 294.5L1513.0 294.6L1513.2 294.9L1513.4 295.2L1513.5 295.3L1513.7 295.4L1513.8 295.2L1514.0 294.9L1514.2 294.5L1514.5 294.3L1514.6 294.6L1514.7 294.9L1515.0 295.5L1515.0 295.6L1515.2 296.1L1515.4 296.1L1515.5 296.0L1515.7 296.0L1515.8 295.9L1516.0 295.9L1516.2 295.3L1516.5 294.7L1516.6 294.3L1516.7 294.1L1517.0 294.2L1517.0 294.3L1517.2 294.7L1517.4 295.2L1517.5 295.3L1517.7 295.5L1517.8 295.4L1518.0 295.3L1518.2 295.1L1518.5 295.0L1518.6 295.2L1518.7 295.4L1519.0 295.8L1519.0 295.9L1519.2 296.2L1519.4 295.8L1519.5 295.7L1519.7 295.2L1519.8 295.1L1520.0 294.8L1520.2 294.9L1520.5 295.2L1520.6 295.4L1520.7 295.5L1521.0 295.6L1521.0 295.7L1521.2 295.7L1521.4 295.8L1521.5 295.8L1521.7 295.5L1521.8 295.0L1522.0 294.4L1522.2 293.4L1522.5 292.7L1522.6 292.8L1522.7 293.0L1523.0 293.2L1523.0 293.3L1523.4 294.0L1523.8 295.1L1524.2 295.5L1524.6 295.4L1525.0 295.6L1525.4 296.2L1525.8 296.3L1526.2 296.0L1526.6 295.4L1527.0 294.7L1527.4 294.7L1527.8 295.5L1528.2 295.7L1528.6 295.1L1529.0 295.0L1529.4 295.3L1529.8 295.3L1530.2 295.2L1530.6 295.4L1531.0 295.8L1531.4 295.6L1531.8 294.7L1532.2 294.4L1532.6 294.5L1533.0 294.3L1533.4 293.8L1533.8 294.6L1534.2 296.8L1534.6 297.1L1535.0 295.6L1535.4 294.8L1535.8 294.9L1536.2 294.8L1536.6 294.7L1537.0 294.8L1537.4 295.0L1537.8 295.2L1538.2 295.3L1538.6 295.6L1539.0 296.2L1539.4 296.3L1539.8 296.1L1540.2 296.1L1540.6 296.1L1541.0 295.9L1541.4 295.5L1541.8 295.4L1542.2 295.7L1542.6 296.1L1543.0 296.8L1543.4 296.8L1543.8 296.2L1544.2 295.9L1544.6 296.1L1545.0 295.6L1545.4 294.4L1545.8 294.5L1546.2 295.8L1546.6 296.4L1547.0 296.2L1547.4 296.4L1547.8 296.9L1548.2 296.2L1548.6 294.2L1549.0 293.9L1549.4 295.3L1549.8 295.9L1550.2 295.8L1550.6 295.9L1551.0 296.0L1551.4 295.8L1551.8 295.5L1552.2 295.5L1552.6 295.9L1553.0 296.3L1553.4 296.5L1553.8 296.5L1554.2 296.1L1554.6 295.9L1555.0 295.7L1555.4 295.7L1555.8 295.7L1556.2 295.7L1556.6 295.6L1557.0 295.7L1557.4 295.9L1557.8 295.8L1558.2 295.4L1558.6 294.9L1559.0 294.3L1559.4 294.8L1559.8 296.5L1560.2 296.5L1560.6 295.0L1561.0 294.6L1561.4 295.4L1561.8 295.5L1562.2 294.9L1562.6 294.9L1563.0 295.4L1563.4 295.5L1563.8 295.2L1564.2 295.2L1564.6 295.7L1565.0 295.7L1565.4 295.3L1565.8 295.0L1566.2 294.8L1566.6 295.1L1567.0 295.9L1567.4 296.5L1567.8 297.0L1568.2 297.0L1568.6 296.6L1569.0 296.2L1569.4 296.1L1569.8 295.8L1570.2 295.2L1570.6 295.1L1571.0 295.6L1571.4 296.0L1571.8 296.3L1572.2 296.1L1572.6 295.6L1573.0 295.7L1573.4 296.5L1573.8 296.6L1574.2 296.2L1574.6 296.0L1575.0 296.2L1575.4 296.1L1575.8 295.7L1576.2 295.5L1576.6 295.5L1577.0 295.6L1577.4 296.0L1577.8 296.2L1578.2 296.3L1578.6 296.3L1579.0 296.3L1579.4 296.0L1579.8 295.3L1580.2 295.0L1580.6 295.1L1581.0 295.4L1581.4 295.8L1581.8 295.5L1582.2 294.6L1582.6 294.8L1583.0 296.3L1583.4 296.8L1583.8 296.4L1584.2 296.2L1584.6 296.1L1585.0 295.8L1585.4 295.4L1585.8 295.6L1586.2 296.4L1586.6 296.5L1587.0 295.9L1587.4 296.2L1587.8 297.3L1588.2 297.5L1588.6 296.7L1589.0 295.9L1589.4 294.9L1589.8 295.0L1590.2 296.1L1590.6 296.4L1591.0 295.7L1591.4 295.4L1591.8 295.4L1592.2 295.5L1592.6 295.6L1593.0 295.7L1593.4 295.8L1593.8 295.9L1594.2 296.1L1594.6 296.3L1595.0 296.6L1595.4 296.6L1595.8 296.5L1596.2 296.1L1596.6 295.5L1597.0 295.1L1597.4 294.7L1597.8 294.7L1598.2 295.0L1598.6 295.4L1599.0 296.0L1599.4 296.4L1599.8 296.7L1600.2 297.0L1600.6 297.5L1601.0 296.9L1601.4 295.4L1601.8 294.9L1602.2 295.7L1602.6 295.9L1603.0 295.8L1603.4 295.7L1603.8 295.6L1604.2 295.7L1604.6 295.9L1605.0 296.0L1605.4 295.8L1605.8 295.7L1606.2 295.7L1606.6 295.6L1607.0 295.4L1607.4 295.5L1607.8 296.1L1608.2 296.5L1608.6 296.8L1609.0 297.1L1609.4 297.4L1609.8 297.0L1610.2 295.9L1610.6 295.3L1611.0 295.0L1611.4 295.1L1611.8 295.5L1612.2 295.5L1612.6 295.2L1613.0 295.5L1613.4 296.5L1613.8 296.5L1614.2 295.6L1614.6 295.3L1615.0 295.8L1615.4 295.6L1615.8 294.9L1616.2 294.8L1616.6 295.3L1617.0 295.7L1617.4 296.0L1617.8 296.4L1618.2 297.1L1618.6 296.9L1619.0 295.8L1619.4 295.5L1619.8 296.0L1620.2 295.7L1620.6 294.4L1621.0 294.0L1621.4 294.5L1621.8 294.8L1622.2 295.0L1622.6 295.2L1623.0 295.3L1623.4 295.6L1623.8 296.1L1624.2 296.4L1624.6 296.5L1625.0 296.0L1625.4 294.8L1625.8 294.8L1626.2 295.9L1626.5 296.2" fill="none" stroke="#000" stroke-width="7.2" stroke-linejoin="round" stroke-linecap="butt"/>
<path d="M165.0 989.8L167.0 989.9L169.0 990.0L171.0 990.1L173.0 990.2L175.0 990.3L177.0 990.4L179.0 990.5L181.0 990.6L183.0 990.7L185.0 990.8L187.0 990.9L189.0 991.0L191.0 991.1L193.0 991.2L195.0 991.3L197.0 991.4L199.0 991.5L201.0 991.6L203.0 991.7L205.0 991.8L207.0 991.9L209.0 992.0L211.0 992.1L213.0 992.2L215.0 992.3L217.0 992.4L219.0 992.5L221.0 992.6L223.0 992.7L225.0 992.8L227.0 992.8L229.0 992.9L231.0 992.9L233.0 993.0L235.0 993.0L237.0 993.1L239.0 993.1L241.0 993.2L243.0 993.2L245.0 993.3L247.0 993.3L249.0 993.4L251.0 993.4L253.0 993.4L255.0 993.5L257.0 993.5L259.0 993.6L261.0 993.6L263.0 993.7L265.0 993.7L267.0 993.8L269.0 993.8L271.0 993.9L273.0 993.9L275.0 994.0L277.0 994.0L279.0 994.0L281.0 994.1L283.0 994.1L285.0 994.2L287.0 994.2L289.0 994.3L291.0 994.3L293.0 994.4L295.0 994.4L297.0 994.5L299.0 994.5L301.0 994.6L303.0 994.6L305.0 994.6L307.0 994.7L309.0 994.7L311.0 994.8L313.0 994.8L315.0 994.9L317.0 994.9L319.0 995.0L321.0 995.0L323.0 995.0L325.0 995.1L327.0 995.1L329.0 995.1L331.0 995.1L333.0 995.2L335.0 995.2L337.0 995.2L339.0 995.2L341.0 995.3L343.0 995.3L345.0 995.3L347.0 995.3L349.0 995.4L351.0 995.4L353.0 995.4L355.0 995.5L357.0 995.5L359.0 995.5L361.0 995.5L363.0 995.6L365.0 995.6L367.0 995.6L369.0 995.6L371.0 995.7L373.0 995.7L375.0 995.7L377.0 995.7L379.0 995.8L381.0 995.8L383.0 995.8L385.0 995.8L387.0 995.9L389.0 995.9L391.0 995.9L393.0 995.9L395.0 996.0L397.0 996.0L399.0 996.0L401.0 996.1L403.0 996.1L405.0 996.1L407.0 996.1L409.0 996.2L411.0 996.2L413.0 996.2L415.0 996.2L417.0 996.3L419.0 996.3L421.0 996.3L423.0 996.3L425.0 996.4L427.0 996.4L429.0 996.4L431.0 996.4L433.0 996.5L435.0 996.5L437.0 996.5L439.0 996.6L441.0 996.6L443.0 996.6L445.0 996.6L447.0 996.7L449.0 996.7L451.0 996.7L453.0 996.7L455.0 996.8L457.0 996.8L459.0 996.8L461.0 996.8L463.0 996.9L465.0 996.9L467.0 996.9L469.0 996.9L471.0 997.0L473.0 997.0L475.0 997.0L477.0 997.0L479.0 997.0L481.0 997.0L483.0 997.0L485.0 997.0L487.0 997.0L489.0 997.0L491.0 997.0L493.0 997.0L495.0 997.0L497.0 997.0L499.0 997.0L501.0 997.0L503.0 997.0L505.0 997.0L507.0 997.0L509.0 997.0L511.0 997.0L513.0 997.0L515.0 997.0L517.0 997.0L517.8 996.9L518.0 996.9L518.3 996.9L518.5 996.9L518.8 996.9L519.0 996.9L519.0 996.9L519.3 996.9L519.5 996.9L519.8 996.9L520.0 996.9L520.3 996.9L520.5 996.9L520.8 996.9L521.0 996.9L521.0 996.9L521.3 996.9L521.5 996.9L521.8 996.9L522.0 996.9L522.3 996.9L522.5 996.9L522.8 996.9L523.0 996.9L523.0 996.9L523.3 996.9L523.5 996.9L523.8 996.9L524.0 996.9L524.3 996.9L524.5 996.9L524.8 996.9L525.0 996.9L525.0 996.9L525.3 996.9L525.5 996.9L525.8 996.9L526.0 996.9L526.3 996.9L526.5 996.9L526.8 996.9L527.0 996.9L527.0 996.9L527.3 996.9L527.5 996.9L527.8 996.9L528.0 996.9L528.3 996.9L528.5 996.9L528.8 996.9L529.0 996.9L529.0 996.9L529.3 996.9L529.5 996.8L529.8 996.8L530.0 996.8L530.3 996.8L530.5 996.8L530.8 996.8L531.0 996.8L531.0 996.8L531.3 996.8L531.5 996.8L531.8 996.8L532.0 996.8L532.3 996.8L532.5 996.8L532.8 996.8L533.0 996.8L533.0 996.8L533.3 996.7L533.5 996.7L533.8 996.7L534.0 996.7L534.3 996.7L534.5 996.7L534.8 996.7L535.0 996.7L535.0 996.7L535.3 996.7L535.5 996.6L535.8 996.6L536.0 996.6L536.3 996.6L536.5 996.6L536.8 996.6L537.0 996.5L537.0 996.5L537.3 996.5L537.5 996.5L537.8 996.5L538.0 996.4L538.3 996.4L538.5 996.4L538.8 996.3L539.0 996.3L539.0 996.3L539.3 996.3L539.5 996.2L539.8 996.2L540.0 996.1L540.3 996.1L540.5 996.0L540.8 995.9L541.0 995.8L541.0 995.8L541.3 995.7L541.5 995.6L541.8 995.5L542.0 995.3L542.3 995.2L542.5 995.0L542.8 994.7L543.0 994.5L543.0 994.4L543.3 994.1L543.5 993.7L543.8 993.2L544.0 992.7L544.3 992.1L544.5 991.5L544.8 990.7L545.0 990.1L545.0 989.9L545.3 989.0L545.5 988.1L545.8 987.1L546.0 986.0L546.3 985.0L546.5 984.0L546.8 983.0L547.0 982.4L547.0 982.2L547.3 981.6L547.5 981.2L547.8 981.0L548.0 981.2L548.3 981.6L548.5 982.2L548.8 983.0L549.0 983.8L549.0 984.0L549.3 985.0L549.5 986.0L549.8 987.1L550.0 988.1L550.3 989.0L550.5 989.9L550.8 990.7L551.0 991.3L551.0 991.5L551.3 992.1L551.5 992.7L551.8 993.3L552.0 993.7L552.3 994.1L552.5 994.4L552.8 994.7L553.0 994.9L553.0 995.0L553.3 995.2L553.5 995.3L553.8 995.5L554.0 995.6L554.3 995.7L554.5 995.8L554.8 995.9L555.0 996.0L555.0 996.0L555.3 996.1L555.5 996.1L555.8 996.2L556.0 996.2L556.3 996.3L556.5 996.3L556.8 996.3L557.0 996.4L557.0 996.4L557.3 996.4L557.5 996.4L557.8 996.5L558.0 996.5L558.3 996.5L558.5 996.5L558.8 996.6L559.0 996.6L559.0 996.6L559.3 996.6L559.5 996.6L559.8 996.6L560.0 996.7L560.3 996.7L560.5 996.7L560.8 996.7L561.0 996.7L561.0 996.7L561.3 996.7L561.5 996.7L561.8 996.7L562.0 996.8L562.3 996.8L562.5 996.8L562.8 996.8L563.0 996.8L563.0 996.8L563.3 996.8L563.5 996.8L563.8 996.8L564.0 996.8L564.3 996.8L564.5 996.8L564.8 996.8L565.0 996.8L565.0 996.8L565.3 996.9L565.5 996.9L565.8 996.9L566.0 996.9L566.3 996.9L566.5 996.9L566.8 996.9L567.0 996.9L567.0 996.9L567.3 996.9L567.5 996.9L567.8 996.9L568.0 996.9L568.3 996.9L568.5 996.9L568.8 996.9L569.0 996.9L569.0 996.9L569.3 996.9L569.5 996.9L569.8 996.9L570.0 996.9L570.3 996.9L570.5 996.9L570.8 996.9L571.0 996.9L571.0 996.9L571.3 996.9L571.5 996.9L571.8 996.9L572.0 996.9L572.3 996.9L572.5 996.9L572.8 997.0L573.0 997.0L573.0 997.0L573.3 997.0L573.5 997.0L573.8 997.0L574.0 997.0L574.3 997.0L574.5 997.0L574.8 997.0L575.0 997.0L575.0 997.0L575.3 997.0L575.5 997.0L575.8 997.0L576.0 997.0L576.3 997.0L576.5 997.0L576.8 997.0L577.0 997.0L577.0 997.0L577.3 997.0L577.5 997.0L579.0 997.0L581.0 997.0L583.0 997.0L585.0 997.0L587.0 997.0L589.0 997.0L591.0 997.0L593.0 997.0L595.0 997.0L597.0 997.0L599.0 997.0L601.0 997.0L603.0 997.0L605.0 997.0L607.0 997.0L609.0 997.0L611.0 997.0L613.0 997.0L615.0 997.1L617.0 997.1L619.0 997.1L621.0 997.1L623.0 997.1L625.0 997.1L627.0 997.1L629.0 997.1L631.0 997.1L633.0 997.1L635.0 997.1L637.0 997.1L639.0 997.1L641.0 997.1L643.0 997.1L645.0 997.1L647.0 997.1L649.0 997.1L651.0 997.1L653.0 997.1L655.0 997.1L657.0 997.1L659.0 997.1L661.0 997.1L663.0 997.1L665.0 997.1L667.0 997.1L669.0 997.1L671.0 997.1L673.0 997.1L675.0 997.1L677.0 997.1L679.0 997.1L681.0 997.1L683.0 997.0L685.0 997.0L687.0 997.0L689.0 997.0L691.0 997.0L693.0 997.0L695.0 997.0L697.0 997.0L699.0 997.0L701.0 997.0L703.0 997.0L705.0 997.0L707.0 997.0L709.0 997.0L711.0 997.0L713.0 997.0L715.0 997.0L717.0 997.0L719.0 996.9L721.0 996.9L723.0 996.9L725.0 996.9L727.0 996.9L729.0 996.9L731.0 996.9L733.0 996.8L735.0 996.8L737.0 996.8L739.0 996.7L741.0 996.7L743.0 996.7L745.0 996.6L745.3 996.6L745.5 996.6L745.8 996.6L746.0 996.6L746.3 996.6L746.5 996.6L746.8 996.6L747.0 996.5L747.0 996.5L747.3 996.5L747.5 996.5L747.8 996.5L748.0 996.5L748.3 996.5L748.5 996.5L748.8 996.5L749.0 996.5L749.0 996.5L749.3 996.5L749.5 996.5L749.8 996.4L750.0 996.4L750.3 996.4L750.5 996.4L750.8 996.4L751.0 996.4L751.0 996.4L751.3 996.4L751.5 996.3L751.8 996.3L752.0 996.3L752.3 996.3L752.5 996.3L752.8 996.3L753.0 996.3L753.0 996.3L753.3 996.2L753.5 996.2L753.8 996.2L754.0 996.2L754.3 996.2L754.5 996.2L754.8 996.1L755.0 996.1L755.0 996.1L755.3 996.1L755.5 996.1L755.8 996.0L756.0 996.0L756.3 996.0L756.5 996.0L756.8 996.0L757.0 995.9L757.0 995.9L757.3 995.9L757.5 995.9L757.8 995.8L758.0 995.8L758.3 995.8L758.5 995.8L758.8 995.7L759.0 995.7L759.0 995.7L759.3 995.7L759.5 995.6L759.8 995.6L760.0 995.5L760.3 995.5L760.5 995.5L760.8 995.4L761.0 995.4L761.0 995.4L761.3 995.3L761.5 995.3L761.8 995.2L762.0 995.2L762.3 995.1L762.5 995.0L762.8 995.0L763.0 994.9L763.0 994.9L763.3 994.8L763.5 994.8L763.8 994.7L764.0 994.6L764.3 994.5L764.5 994.4L764.8 994.3L765.0 994.2L765.0 994.2L765.3 994.1L765.5 994.0L765.8 993.9L766.0 993.7L766.3 993.6L766.5 993.4L766.8 993.3L767.0 993.1L767.0 993.1L767.3 992.9L767.5 992.7L767.8 992.5L768.0 992.2L768.3 992.0L768.5 991.7L768.8 991.4L769.0 991.1L769.0 991.0L769.3 990.6L769.5 990.2L769.8 989.8L770.0 989.2L770.3 988.7L770.5 988.0L770.8 987.3L771.0 986.7L771.0 986.6L771.3 985.7L771.5 984.7L771.8 983.6L772.0 982.3L772.3 980.9L772.5 979.1L772.8 976.4L773.0 973.1L773.0 972.0L773.3 964.9L773.5 954.3L773.8 940.9L774.0 926.3L774.3 913.0L774.5 902.9L774.8 896.7L775.0 894.2L775.0 893.8L775.3 893.2L775.5 893.7L775.8 896.5L776.0 902.7L776.3 912.7L776.5 925.9L776.8 940.3L777.0 951.2L777.0 953.7L777.3 964.2L777.5 971.2L777.8 975.5L778.0 978.1L778.3 979.8L778.5 981.1L778.8 982.3L779.0 983.1L779.0 983.3L779.3 984.2L779.5 984.9L779.8 985.6L780.0 986.2L780.3 986.7L780.5 987.2L780.8 987.6L781.0 987.8L781.0 987.9L781.3 988.2L781.5 988.4L781.8 988.6L782.0 988.8L782.3 988.9L782.5 989.1L782.8 989.1L783.0 989.2L783.0 989.2L783.3 989.2L783.5 989.2L783.8 989.2L784.0 989.2L784.3 989.1L784.5 989.1L784.8 989.0L785.0 988.9L785.0 988.9L785.3 988.7L785.5 988.6L785.8 988.4L786.0 988.2L786.3 988.0L786.5 987.8L786.8 987.5L787.0 987.3L787.0 987.2L787.3 986.9L787.5 986.6L787.8 986.2L788.0 985.8L788.3 985.4L788.5 984.9L788.8 984.4L789.0 983.9L789.0 983.8L789.3 983.2L789.5 982.6L789.8 981.9L790.0 981.1L790.3 980.3L790.5 979.4L790.8 978.5L791.0 977.7L791.0 977.5L791.3 976.3L791.5 975.1L791.8 973.8L792.0 972.4L792.3 970.6L792.5 967.9L792.8 963.5L793.0 957.6L793.0 955.7L793.3 943.1L793.5 924.5L793.8 900.4L794.0 872.3L794.3 843.1L794.5 815.4L794.8 791.5L795.0 775.9L795.0 772.5L795.3 758.5L795.5 748.9L795.8 742.9L796.0 739.4L796.3 737.5L796.5 736.7L796.8 736.5L797.0 736.6L797.0 736.7L797.3 737.6L797.5 739.4L797.8 742.9L798.0 749.0L798.3 758.6L798.5 772.6L798.8 791.7L799.0 810.5L799.0 815.6L799.3 843.3L799.5 872.5L799.8 900.6L800.0 924.8L800.3 943.4L800.5 956.0L800.8 963.8L801.0 967.6L801.0 968.3L801.3 971.0L801.5 972.8L801.8 974.3L802.0 975.6L802.3 976.8L802.5 978.0L802.8 979.0L803.0 979.8L803.0 980.0L803.3 980.9L803.5 981.8L803.8 982.6L804.0 983.3L804.3 984.0L804.5 984.6L804.8 985.2L805.0 985.7L805.0 985.8L805.3 986.3L805.5 986.8L805.8 987.2L806.0 987.7L806.3 988.1L806.5 988.4L806.8 988.8L807.0 989.1L807.0 989.1L807.3 989.4L807.5 989.7L807.8 990.0L808.0 990.3L808.3 990.5L808.5 990.8L808.8 991.0L809.0 991.1L809.0 991.2L809.3 991.4L809.5 991.6L809.8 991.8L810.0 991.9L810.3 992.1L810.5 992.2L810.8 992.4L811.0 992.5L811.0 992.5L811.3 992.7L811.5 992.8L811.8 992.9L812.0 993.0L812.3 993.1L812.5 993.2L812.8 993.3L813.0 993.4L813.0 993.4L813.3 993.5L813.5 993.6L813.8 993.7L814.0 993.8L814.3 993.9L814.5 994.0L814.8 994.0L815.0 994.1L815.0 994.1L815.3 994.2L815.5 994.2L815.8 994.3L816.0 994.4L816.3 994.4L816.5 994.5L816.8 994.5L817.0 994.6L817.0 994.6L817.3 994.6L817.5 994.7L817.8 994.7L818.0 994.8L818.3 994.8L818.5 994.9L818.8 994.9L819.0 994.9L819.0 994.9L819.3 995.0L819.5 995.0L819.8 995.0L820.0 995.1L820.3 995.1L820.5 995.1L820.8 995.2L821.0 995.2L821.0 995.2L821.3 995.2L821.5 995.3L821.8 995.3L822.0 995.3L822.3 995.3L822.5 995.4L822.8 995.4L823.0 995.4L823.0 995.4L823.3 995.4L823.5 995.5L823.8 995.5L824.0 995.5L824.3 995.5L824.5 995.6L824.8 995.6L825.0 995.6L825.0 995.6L825.3 995.6L825.5 995.6L825.8 995.6L826.0 995.7L826.3 995.7L826.5 995.7L827.0 995.7L829.0 995.8L831.0 995.9L833.0 996.0L835.0 996.1L837.0 996.2L839.0 996.2L841.0 996.3L843.0 996.3L845.0 996.3L847.0 996.4L849.0 996.4L851.0 996.4L853.0 996.4L855.0 996.5L857.0 996.5L859.0 996.5L861.0 996.5L863.0 996.5L865.0 996.5L867.0 996.5L869.0 996.5L871.0 996.6L873.0 996.6L875.0 996.6L876.8 996.6L877.0 996.5L877.0 996.5L877.3 996.5L877.5 996.5L877.8 996.5L878.0 996.5L878.3 996.5L878.5 996.5L878.8 996.5L879.0 996.5L879.0 996.5L879.3 996.5L879.5 996.5L879.8 996.5L880.0 996.5L880.3 996.5L880.5 996.5L880.8 996.5L881.0 996.5L881.0 996.5L881.3 996.5L881.5 996.5L881.8 996.5L882.0 996.5L882.3 996.5L882.5 996.5L882.8 996.5L883.0 996.5L883.0 996.5L883.3 996.5L883.5 996.5L883.8 996.5L884.0 996.5L884.3 996.5L884.5 996.5L884.8 996.5L885.0 996.5L885.0 996.5L885.3 996.5L885.5 996.5L885.8 996.5L886.0 996.5L886.3 996.5L886.5 996.5L886.8 996.5L887.0 996.5L887.0 996.5L887.3 996.5L887.5 996.5L887.8 996.5L888.0 996.4L888.3 996.4L888.5 996.4L888.8 996.4L889.0 996.4L889.0 996.4L889.3 996.4L889.5 996.4L889.8 996.4L890.0 996.4L890.3 996.4L890.5 996.4L890.8 996.4L891.0 996.4L891.0 996.4L891.3 996.3L891.5 996.3L891.8 996.3L892.0 996.3L892.3 996.3L892.5 996.3L892.8 996.3L893.0 996.3L893.0 996.3L893.3 996.2L893.5 996.2L893.8 996.2L894.0 996.2L894.3 996.2L894.5 996.2L894.8 996.1L895.0 996.1L895.0 996.1L895.3 996.1L895.5 996.1L895.8 996.0L896.0 996.0L896.3 996.0L896.5 996.0L896.8 995.9L897.0 995.9L897.0 995.9L897.3 995.8L897.5 995.8L897.8 995.8L898.0 995.7L898.3 995.6L898.5 995.6L898.8 995.5L899.0 995.5L899.0 995.5L899.3 995.4L899.5 995.3L899.8 995.2L900.0 995.1L900.3 995.0L900.5 994.9L900.8 994.8L901.0 994.7L901.0 994.7L901.3 994.5L901.5 994.4L901.8 994.2L902.0 994.0L902.3 993.8L902.5 993.5L902.8 993.3L903.0 993.0L903.0 993.0L903.3 992.6L903.5 992.2L903.8 991.7L904.0 990.8L904.3 989.5L904.5 987.3L904.8 984.3L905.0 981.3L905.0 980.5L905.3 976.4L905.5 972.5L905.8 969.2L906.0 966.8L906.3 965.5L906.5 964.9L906.8 964.7L907.0 964.8L907.0 964.9L907.3 965.5L907.5 966.8L907.8 969.2L908.0 972.5L908.3 976.4L908.5 980.5L908.8 984.3L909.0 986.8L909.0 987.3L909.3 989.5L909.5 990.9L909.8 991.7L910.0 992.3L910.3 992.7L910.5 993.0L910.8 993.3L911.0 993.5L911.0 993.5L911.3 993.8L911.5 994.0L911.8 994.2L912.0 994.4L912.3 994.5L912.5 994.7L912.8 994.8L913.0 994.9L913.0 994.9L913.3 995.1L913.5 995.2L913.8 995.3L914.0 995.3L914.3 995.4L914.5 995.5L914.8 995.6L915.0 995.6L915.0 995.6L915.3 995.7L915.5 995.7L915.8 995.8L916.0 995.8L916.3 995.9L916.5 995.9L916.8 996.0L917.0 996.0L917.0 996.0L917.3 996.0L917.5 996.1L917.8 996.1L918.0 996.1L918.3 996.1L918.5 996.2L918.8 996.2L919.0 996.2L919.0 996.2L919.3 996.2L919.5 996.2L919.8 996.3L920.0 996.3L920.3 996.3L920.5 996.3L920.8 996.3L921.0 996.3L921.0 996.3L921.3 996.4L921.5 996.4L921.8 996.4L922.0 996.4L922.3 996.4L922.5 996.4L922.8 996.4L923.0 996.4L923.0 996.4L923.3 996.4L923.5 996.5L923.8 996.5L924.0 996.5L924.3 996.5L924.5 996.5L924.8 996.5L925.0 996.5L925.0 996.5L925.3 996.5L925.5 996.5L925.8 996.5L926.0 996.5L926.3 996.5L926.5 996.5L926.8 996.5L927.0 996.6L927.0 996.6L927.3 996.6L927.5 996.6L927.8 996.6L928.0 996.6L928.3 996.6L928.5 996.6L928.8 996.6L929.0 996.6L929.0 996.6L929.3 996.6L929.5 996.6L929.8 996.6L930.0 996.6L930.3 996.6L930.5 996.6L930.8 996.6L931.0 996.6L931.0 996.6L931.3 996.6L931.5 996.6L931.8 996.6L932.0 996.6L932.3 996.6L932.5 996.6L932.8 996.6L933.0 996.6L933.0 996.6L933.3 996.6L933.5 996.6L933.8 996.6L934.0 996.7L934.3 996.7L934.5 996.7L934.8 996.7L935.0 996.7L935.0 996.7L935.3 996.7L935.5 996.7L935.8 996.7L936.0 996.7L936.3 996.7L936.5 996.7L937.0 996.7L939.0 996.7L941.0 996.7L943.0 996.7L945.0 996.7L947.0 996.7L949.0 996.7L951.0 996.7L953.0 996.7L955.0 996.7L957.0 996.7L959.0 996.7L961.0 996.7L963.0 996.7L965.0 996.7L966.0 996.7L966.2 996.7L966.5 996.7L966.8 996.7L967.0 996.7L967.2 996.7L967.5 996.7L967.8 996.7L968.0 996.7L968.2 996.7L968.5 996.7L968.8 996.7L969.0 996.7L969.2 996.7L969.5 996.7L969.8 996.7L970.0 996.7L970.2 996.7L970.5 996.7L970.8 996.7L971.0 996.7L971.2 996.7L971.5 996.7L971.8 996.7L972.0 996.7L972.2 996.7L972.5 996.7L972.8 996.7L973.0 996.7L973.2 996.7L973.5 996.7L973.8 996.7L974.0 996.7L974.2 996.7L974.5 996.7L974.8 996.7L975.0 996.7L975.2 996.7L975.5 996.7L975.8 996.7L976.0 996.7L976.2 996.7L976.5 996.7L976.8 996.7L977.0 996.7L977.2 996.7L977.5 996.7L977.8 996.7L978.0 996.7L978.2 996.7L978.5 996.7L978.8 996.7L979.0 996.7L979.2 996.7L979.5 996.7L979.8 996.7L980.0 996.7L980.2 996.7L980.5 996.7L980.8 996.7L981.0 996.7L981.2 996.7L981.5 996.7L981.8 996.7L982.0 996.7L982.2 996.7L982.5 996.7L982.8 996.7L983.0 996.7L983.2 996.7L983.5 996.7L983.8 996.7L984.0 996.6L984.2 996.6L984.5 996.6L984.8 996.6L985.0 996.6L985.2 996.6L985.5 996.6L985.8 996.6L986.0 996.6L986.2 996.6L986.5 996.5L986.8 996.5L987.0 996.5L987.2 996.5L987.5 996.5L987.8 996.4L988.0 996.4L988.2 996.4L988.5 996.3L988.8 996.3L989.0 996.3L989.2 996.2L989.5 996.2L989.8 996.1L990.0 996.0L990.2 996.0L990.5 995.9L990.8 995.8L991.0 995.7L991.2 995.6L991.5 995.5L991.8 995.4L992.0 995.3L992.2 995.2L992.5 995.1L992.8 995.0L993.0 994.8L993.2 994.7L993.5 994.6L993.8 994.5L994.0 994.3L994.2 994.2L994.5 994.1L994.8 994.0L995.0 994.0L995.2 993.9L995.5 993.8L995.8 993.8L996.0 993.8L996.2 993.8L996.5 993.8L996.8 993.9L997.0 994.0L997.2 994.0L997.5 994.1L997.8 994.2L998.0 994.3L998.2 994.5L998.5 994.6L998.8 994.7L999.0 994.8L999.2 995.0L999.5 995.1L999.8 995.2L1000.0 995.3L1000.2 995.4L1000.5 995.5L1000.8 995.6L1001.0 995.7L1001.2 995.8L1001.5 995.9L1001.8 996.0L1002.0 996.0L1002.2 996.1L1002.5 996.2L1002.8 996.2L1003.0 996.3L1003.2 996.3L1003.5 996.4L1003.8 996.4L1004.0 996.4L1004.2 996.4L1004.5 996.5L1004.8 996.5L1005.0 996.5L1005.2 996.5L1005.5 996.6L1005.8 996.6L1006.0 996.6L1006.2 996.6L1006.5 996.6L1006.8 996.6L1007.0 996.6L1007.2 996.6L1007.5 996.6L1007.8 996.7L1008.0 996.7L1008.2 996.7L1008.5 996.7L1008.8 996.7L1009.0 996.7L1009.2 996.7L1009.5 996.7L1009.8 996.7L1010.0 996.7L1010.2 996.7L1010.5 996.7L1010.8 996.7L1011.0 996.7L1011.2 996.7L1011.5 996.7L1011.8 996.7L1012.0 996.7L1012.2 996.7L1012.5 996.7L1012.8 996.7L1013.0 996.7L1013.2 996.7L1013.5 996.7L1013.8 996.7L1014.0 996.7L1014.2 996.8L1014.5 996.8L1014.8 996.8L1015.0 996.8L1015.2 996.8L1015.5 996.8L1015.8 996.8L1016.0 996.8L1016.2 996.8L1016.5 996.8L1016.8 996.8L1017.0 996.8L1017.2 996.8L1017.5 996.8L1017.8 996.8L1018.0 996.8L1018.2 996.8L1018.5 996.8L1018.8 996.8L1019.0 996.8L1019.2 996.8L1019.5 996.8L1019.8 996.8L1020.0 996.8L1020.2 996.8L1020.5 996.8L1020.8 996.8L1021.0 996.8L1021.2 996.8L1021.5 996.8L1021.8 996.8L1022.0 996.8L1022.2 996.8L1022.5 996.8L1022.8 996.8L1023.0 996.8L1023.2 996.8L1023.5 996.8L1023.8 996.8L1024.0 996.8L1024.2 996.8L1024.5 996.8L1024.8 996.8L1025.0 996.8L1025.2 996.8L1025.5 996.8L1025.8 996.8L1027.0 996.8L1029.0 996.8L1031.0 996.8L1033.0 996.8L1035.0 996.8L1037.0 996.8L1039.0 996.8L1041.0 996.8L1043.0 996.8L1045.0 996.8L1047.0 996.8L1049.0 996.8L1051.0 996.8L1053.0 996.8L1055.0 996.8L1057.0 996.8L1059.0 996.8L1061.0 996.8L1063.0 996.8L1065.0 996.8L1067.0 996.8L1069.0 996.8L1071.0 996.8L1073.0 996.8L1075.0 996.8L1077.0 996.8L1079.0 996.8L1081.0 996.8L1083.0 996.8L1085.0 996.8L1087.0 996.8L1089.0 996.8L1091.0 996.8L1093.0 996.8L1095.0 996.8L1097.0 996.8L1099.0 996.8L1101.0 996.8L1103.0 996.8L1105.0 996.8L1107.0 996.8L1109.0 996.8L1111.0 996.8L1113.0 996.8L1115.0 996.8L1117.0 996.8L1119.0 996.8L1121.0 996.8L1123.0 996.8L1125.0 996.8L1127.0 996.8L1129.0 996.8L1131.0 996.8L1133.0 996.7L1135.0 996.7L1137.0 996.7L1139.0 996.7L1140.3 996.6L1140.5 996.6L1140.8 996.6L1141.0 996.6L1141.0 996.6L1141.3 996.6L1141.5 996.6L1141.8 996.6L1142.0 996.6L1142.3 996.6L1142.5 996.6L1142.8 996.6L1143.0 996.6L1143.0 996.6L1143.3 996.6L1143.5 996.6L1143.8 996.6L1144.0 996.6L1144.3 996.6L1144.5 996.6L1144.8 996.5L1145.0 996.5L1145.0 996.5L1145.3 996.5L1145.5 996.5L1145.8 996.5L1146.0 996.5L1146.3 996.5L1146.5 996.5L1146.8 996.5L1147.0 996.5L1147.0 996.5L1147.3 996.5L1147.5 996.5L1147.8 996.5L1148.0 996.5L1148.3 996.4L1148.5 996.4L1148.8 996.4L1149.0 996.4L1149.0 996.4L1149.3 996.4L1149.5 996.4L1149.8 996.4L1150.0 996.4L1150.3 996.4L1150.5 996.4L1150.8 996.3L1151.0 996.3L1151.0 996.3L1151.3 996.3L1151.5 996.3L1151.8 996.3L1152.0 996.3L1152.3 996.3L1152.5 996.2L1152.8 996.2L1153.0 996.2L1153.0 996.2L1153.3 996.2L1153.5 996.2L1153.8 996.2L1154.0 996.1L1154.3 996.1L1154.5 996.1L1154.8 996.1L1155.0 996.0L1155.0 996.0L1155.3 996.0L1155.5 996.0L1155.8 996.0L1156.0 995.9L1156.3 995.9L1156.5 995.9L1156.8 995.8L1157.0 995.8L1157.0 995.8L1157.3 995.8L1157.5 995.7L1157.8 995.7L1158.0 995.7L1158.3 995.6L1158.5 995.6L1158.8 995.5L1159.0 995.5L1159.0 995.5L1159.3 995.4L1159.5 995.3L1159.8 995.3L1160.0 995.2L1160.3 995.1L1160.5 995.0L1160.8 995.0L1161.0 994.9L1161.0 994.9L1161.3 994.8L1161.5 994.6L1161.8 994.5L1162.0 994.4L1162.3 994.2L1162.5 994.0L1162.8 993.9L1163.0 993.7L1163.0 993.6L1163.3 993.4L1163.5 993.2L1163.8 992.9L1164.0 992.5L1164.3 992.2L1164.5 991.8L1164.8 991.4L1165.0 991.0L1165.0 990.9L1165.3 990.4L1165.5 989.8L1165.8 989.2L1166.0 988.5L1166.3 987.8L1166.5 987.0L1166.8 986.2L1167.0 985.5L1167.0 985.4L1167.3 984.5L1167.5 983.5L1167.8 982.6L1168.0 981.6L1168.3 980.6L1168.5 979.7L1168.8 978.8L1169.0 978.1L1169.0 977.9L1169.3 977.2L1169.5 976.6L1169.8 976.1L1170.0 975.8L1170.3 975.7L1170.5 975.8L1170.8 976.1L1171.0 976.5L1171.0 976.6L1171.3 977.2L1171.5 977.9L1171.8 978.7L1172.0 979.7L1172.3 980.6L1172.5 981.6L1172.8 982.5L1173.0 983.3L1173.0 983.5L1173.3 984.4L1173.5 985.3L1173.8 986.2L1174.0 987.0L1174.3 987.8L1174.5 988.5L1174.8 989.2L1175.0 989.6L1175.0 989.8L1175.3 990.3L1175.5 990.8L1175.8 991.3L1176.0 991.7L1176.3 992.1L1176.5 992.5L1176.8 992.8L1177.0 993.0L1177.0 993.1L1177.3 993.4L1177.5 993.6L1177.8 993.8L1178.0 994.0L1178.3 994.2L1178.5 994.3L1178.8 994.4L1179.0 994.5L1179.0 994.6L1179.3 994.7L1179.5 994.8L1179.8 994.9L1180.0 995.0L1180.3 995.0L1180.5 995.1L1180.8 995.2L1181.0 995.2L1181.0 995.3L1181.3 995.3L1181.5 995.4L1181.8 995.4L1182.0 995.5L1182.3 995.5L1182.5 995.6L1182.8 995.6L1183.0 995.6L1183.0 995.6L1183.3 995.7L1183.5 995.7L1183.8 995.7L1184.0 995.8L1184.3 995.8L1184.5 995.8L1184.8 995.8L1185.0 995.9L1185.0 995.9L1185.3 995.9L1185.5 995.9L1185.8 995.9L1186.0 996.0L1186.3 996.0L1186.5 996.0L1186.8 996.0L1187.0 996.0L1187.0 996.0L1187.3 996.0L1187.5 996.1L1187.8 996.1L1188.0 996.1L1188.3 996.1L1188.5 996.1L1188.8 996.1L1189.0 996.1L1189.0 996.1L1189.3 996.2L1189.5 996.2L1189.8 996.2L1190.0 996.2L1190.3 996.2L1190.5 996.2L1190.8 996.2L1191.0 996.2L1191.0 996.2L1191.3 996.2L1191.5 996.2L1191.8 996.2L1192.0 996.3L1192.3 996.3L1192.5 996.3L1192.8 996.3L1193.0 996.3L1193.0 996.3L1193.3 996.3L1193.5 996.3L1193.8 996.3L1194.0 996.3L1194.3 996.3L1194.5 996.3L1194.8 996.3L1195.0 996.3L1195.0 996.3L1195.3 996.3L1195.5 996.3L1195.8 996.3L1196.0 996.3L1196.3 996.3L1196.5 996.4L1196.8 996.4L1197.0 996.4L1197.0 996.4L1197.3 996.4L1197.5 996.4L1197.8 996.4L1198.0 996.4L1198.3 996.4L1198.5 996.4L1198.8 996.4L1199.0 996.4L1199.0 996.4L1199.3 996.4L1199.5 996.4L1199.8 996.4L1200.0 996.4L1201.0 996.4L1203.0 996.4L1205.0 996.4L1207.0 996.4L1209.0 996.4L1211.0 996.4L1213.0 996.4L1215.0 996.4L1217.0 996.4L1219.0 996.4L1221.0 996.4L1223.0 996.4L1225.0 996.4L1227.0 996.4L1229.0 996.4L1231.0 996.4L1233.0 996.4L1235.0 996.4L1237.0 996.4L1239.0 996.4L1241.0 996.4L1243.0 996.4L1245.0 996.4L1247.0 996.4L1249.0 996.4L1251.0 996.4L1253.0 996.3L1255.0 996.3L1257.0 996.3L1259.0 996.3L1261.0 996.3L1263.0 996.3L1265.0 996.3L1267.0 996.3L1269.0 996.3L1271.0 996.3L1273.0 996.3L1275.0 996.3L1277.0 996.2L1279.0 996.2L1281.0 996.2L1283.0 996.2L1285.0 996.2L1287.0 996.2L1289.0 996.2L1291.0 996.2L1293.0 996.2L1295.0 996.2L1297.0 996.2L1299.0 996.1L1301.0 996.1L1303.0 996.1L1305.0 996.1L1307.0 996.1L1309.0 996.1L1311.0 996.1L1313.0 996.1L1315.0 996.1L1315.5 996.1L1315.8 996.1L1316.0 996.1L1316.2 996.1L1316.5 996.1L1316.8 996.1L1317.0 996.1L1317.2 996.1L1317.5 996.1L1317.8 996.1L1318.0 996.1L1318.2 996.0L1318.5 996.0L1318.8 996.0L1319.0 996.0L1319.2 996.0L1319.5 996.0L1319.8 996.0L1320.0 996.0L1320.2 996.0L1320.5 996.0L1320.8 996.0L1321.0 996.0L1321.2 996.0L1321.5 996.0L1321.8 996.0L1322.0 996.0L1322.2 996.0L1322.5 996.0L1322.8 996.0L1323.0 996.0L1323.2 996.0L1323.5 996.0L1323.8 996.0L1324.0 996.0L1324.2 996.0L1324.5 996.0L1324.8 996.0L1325.0 996.0L1325.2 996.0L1325.5 996.0L1325.8 996.0L1326.0 996.0L1326.2 996.0L1326.5 996.0L1326.8 995.9L1327.0 995.9L1327.2 995.9L1327.5 995.9L1327.8 995.9L1328.0 995.9L1328.2 995.9L1328.5 995.9L1328.8 995.9L1329.0 995.9L1329.2 995.9L1329.5 995.9L1329.8 995.9L1330.0 995.9L1330.2 995.9L1330.5 995.9L1330.8 995.8L1331.0 995.8L1331.2 995.8L1331.5 995.8L1331.8 995.8L1332.0 995.8L1332.2 995.8L1332.5 995.8L1332.8 995.8L1333.0 995.7L1333.2 995.7L1333.5 995.7L1333.8 995.7L1334.0 995.7L1334.2 995.7L1334.5 995.6L1334.8 995.6L1335.0 995.6L1335.2 995.6L1335.5 995.6L1335.8 995.5L1336.0 995.5L1336.2 995.5L1336.5 995.4L1336.8 995.4L1337.0 995.4L1337.2 995.3L1337.5 995.3L1337.8 995.2L1338.0 995.2L1338.2 995.1L1338.5 995.0L1338.8 994.9L1339.0 994.9L1339.2 994.8L1339.5 994.6L1339.8 994.5L1340.0 994.3L1340.2 994.1L1340.5 993.9L1340.8 993.6L1341.0 993.3L1341.2 992.9L1341.5 992.5L1341.8 992.0L1342.0 991.5L1342.2 990.9L1342.5 990.2L1342.8 989.4L1343.0 988.6L1343.2 987.7L1343.5 986.7L1343.8 985.7L1344.0 984.8L1344.2 983.8L1344.5 982.9L1344.8 982.2L1345.0 981.6L1345.2 981.2L1345.5 981.1L1345.8 981.2L1346.0 981.6L1346.2 982.2L1346.5 982.9L1346.8 983.8L1347.0 984.8L1347.2 985.7L1347.5 986.7L1347.8 987.7L1348.0 988.5L1348.2 989.4L1348.5 990.1L1348.8 990.8L1349.0 991.5L1349.2 992.0L1349.5 992.5L1349.8 992.9L1350.0 993.3L1350.2 993.6L1350.5 993.9L1350.8 994.1L1351.0 994.3L1351.2 994.5L1351.5 994.6L1351.8 994.7L1352.0 994.8L1352.2 994.9L1352.5 995.0L1352.8 995.1L1353.0 995.1L1353.2 995.2L1353.5 995.2L1353.8 995.3L1354.0 995.3L1354.2 995.4L1354.5 995.4L1354.8 995.4L1355.0 995.4L1355.2 995.5L1355.5 995.5L1355.8 995.5L1356.0 995.5L1356.2 995.6L1356.5 995.6L1356.8 995.6L1357.0 995.6L1357.2 995.6L1357.5 995.6L1357.8 995.7L1358.0 995.7L1358.2 995.7L1358.5 995.7L1358.8 995.7L1359.0 995.7L1359.2 995.7L1359.5 995.7L1359.8 995.7L1360.0 995.8L1360.2 995.8L1360.5 995.8L1360.8 995.8L1361.0 995.8L1361.2 995.8L1361.5 995.8L1361.8 995.8L1362.0 995.8L1362.2 995.8L1362.5 995.8L1362.8 995.8L1363.0 995.8L1363.2 995.8L1363.5 995.8L1363.8 995.8L1364.0 995.8L1364.2 995.8L1364.5 995.8L1364.8 995.9L1365.0 995.9L1365.2 995.9L1365.5 995.9L1365.8 995.9L1366.0 995.9L1366.2 995.9L1366.5 995.9L1366.8 995.9L1367.0 995.9L1367.2 995.9L1367.5 995.9L1367.8 995.9L1368.0 995.9L1368.2 995.9L1368.5 995.9L1368.8 995.9L1369.0 995.9L1369.2 995.9L1369.5 995.9L1369.8 995.9L1370.0 995.9L1370.2 995.9L1370.5 995.9L1370.8 995.9L1371.0 995.9L1371.2 995.9L1371.5 995.9L1371.8 995.9L1372.0 995.9L1372.2 995.9L1372.5 995.9L1372.8 995.9L1373.0 995.9L1373.2 995.9L1373.5 995.9L1373.8 995.9L1374.0 995.9L1374.2 995.9L1374.5 995.9L1374.8 995.9L1375.0 995.9L1375.2 995.9L1377.0 995.9L1379.0 995.9L1381.0 995.9L1383.0 995.9L1385.0 995.9L1387.0 995.9L1389.0 995.9L1391.0 995.9L1393.0 995.9L1395.0 995.9L1397.0 995.9L1399.0 995.9L1401.0 995.9L1403.0 995.9L1405.0 995.9L1407.0 995.8L1409.0 995.8L1411.0 995.8L1413.0 995.8L1415.0 995.8L1417.0 995.8L1419.0 995.8L1421.0 995.8L1423.0 995.8L1425.0 995.8L1427.0 995.7L1429.0 995.7L1431.0 995.7L1433.0 995.7L1435.0 995.7L1437.0 995.7L1439.0 995.6L1441.0 995.6L1443.0 995.6L1445.0 995.6L1447.0 995.5L1449.0 995.5L1451.0 995.5L1453.0 995.4L1455.0 995.4L1457.0 995.3L1459.0 995.2L1459.2 995.2L1459.5 995.2L1459.7 995.2L1460.0 995.2L1460.2 995.2L1460.5 995.2L1460.7 995.2L1461.0 995.2L1461.0 995.1L1461.2 995.1L1461.5 995.1L1461.7 995.1L1462.0 995.1L1462.2 995.1L1462.5 995.1L1462.7 995.1L1463.0 995.0L1463.0 995.0L1463.2 995.0L1463.5 995.0L1463.7 995.0L1464.0 995.0L1464.2 995.0L1464.5 995.0L1464.7 994.9L1465.0 994.9L1465.0 994.9L1465.2 994.9L1465.5 994.9L1465.7 994.9L1466.0 994.8L1466.2 994.8L1466.5 994.8L1466.7 994.8L1467.0 994.8L1467.0 994.8L1467.2 994.7L1467.5 994.7L1467.7 994.7L1468.0 994.7L1468.2 994.6L1468.5 994.6L1468.7 994.6L1469.0 994.6L1469.0 994.5L1469.2 994.5L1469.5 994.5L1469.7 994.5L1470.0 994.4L1470.2 994.4L1470.5 994.4L1470.7 994.3L1471.0 994.3L1471.0 994.3L1471.2 994.3L1471.5 994.2L1471.7 994.2L1472.0 994.1L1472.2 994.1L1472.5 994.0L1472.7 994.0L1473.0 993.9L1473.0 993.9L1473.2 993.9L1473.5 993.8L1473.7 993.8L1474.0 993.7L1474.2 993.7L1474.5 993.6L1474.7 993.5L1475.0 993.4L1475.0 993.4L1475.2 993.4L1475.5 993.3L1475.7 993.2L1476.0 993.1L1476.2 993.0L1476.5 992.9L1476.7 992.8L1477.0 992.7L1477.0 992.6L1477.2 992.5L1477.5 992.4L1477.7 992.2L1478.0 992.1L1478.2 991.9L1478.5 991.7L1478.7 991.5L1479.0 991.3L1479.0 991.2L1479.2 991.0L1479.5 990.8L1479.7 990.5L1480.0 990.1L1480.2 989.8L1480.5 989.4L1480.7 989.0L1481.0 988.5L1481.0 988.4L1481.2 988.0L1481.5 987.5L1481.7 986.9L1482.0 986.2L1482.2 985.6L1482.5 984.8L1482.7 984.0L1483.0 983.2L1483.0 983.0L1483.2 982.3L1483.5 981.4L1483.7 980.4L1484.0 979.4L1484.2 978.3L1484.5 977.2L1484.7 976.0L1485.0 974.8L1485.0 974.6L1485.2 973.6L1485.5 972.4L1485.7 971.1L1486.0 969.9L1486.2 968.7L1486.5 967.5L1486.7 966.3L1487.0 965.2L1487.0 965.0L1487.2 964.2L1487.5 963.2L1487.7 962.4L1488.0 961.6L1488.2 961.0L1488.5 960.5L1488.7 960.1L1489.0 959.9L1489.0 959.8L1489.2 959.8L1489.5 959.9L1489.7 960.1L1490.0 960.5L1490.2 961.0L1490.5 961.6L1490.7 962.4L1491.0 963.2L1491.0 963.4L1491.2 964.2L1491.5 965.2L1491.7 966.3L1492.0 967.5L1492.2 968.7L1492.5 969.9L1492.7 971.1L1493.0 972.4L1493.0 972.6L1493.2 973.6L1493.5 974.8L1493.7 976.0L1494.0 977.2L1494.2 978.3L1494.5 979.4L1494.7 980.4L1495.0 981.4L1495.0 981.6L1495.2 982.3L1495.5 983.2L1495.7 984.0L1496.0 984.8L1496.2 985.6L1496.5 986.2L1496.7 986.9L1497.0 987.5L1497.0 987.6L1497.2 988.0L1497.5 988.5L1497.7 989.0L1498.0 989.4L1498.2 989.8L1498.5 990.1L1498.7 990.5L1499.0 990.8L1499.0 990.8L1499.2 991.0L1499.5 991.3L1499.7 991.5L1500.0 991.7L1500.2 991.9L1500.5 992.1L1500.7 992.2L1501.0 992.4L1501.0 992.4L1501.2 992.5L1501.5 992.7L1501.7 992.8L1502.0 992.9L1502.2 993.0L1502.5 993.1L1502.7 993.2L1503.0 993.3L1503.0 993.3L1503.2 993.4L1503.5 993.4L1503.7 993.5L1504.0 993.6L1504.2 993.7L1504.5 993.7L1504.7 993.8L1505.0 993.8L1505.0 993.8L1505.2 993.9L1505.5 993.9L1505.7 994.0L1506.0 994.0L1506.2 994.1L1506.5 994.1L1506.7 994.2L1507.0 994.2L1507.0 994.2L1507.2 994.3L1507.5 994.3L1507.7 994.3L1508.0 994.4L1508.2 994.4L1508.5 994.4L1508.7 994.5L1509.0 994.5L1509.0 994.5L1509.2 994.5L1509.5 994.6L1509.7 994.6L1510.0 994.6L1510.2 994.6L1510.5 994.7L1510.7 994.7L1511.0 994.7L1511.0 994.7L1511.2 994.7L1511.5 994.8L1511.7 994.8L1512.0 994.8L1512.2 994.8L1512.5 994.8L1512.7 994.9L1513.0 994.9L1513.0 994.9L1513.2 994.9L1513.5 994.9L1513.7 994.9L1514.0 994.9L1514.2 995.0L1514.5 995.0L1514.7 995.0L1515.0 995.0L1515.0 995.0L1515.2 995.0L1515.5 995.0L1515.7 995.1L1516.0 995.1L1516.2 995.1L1516.5 995.1L1516.7 995.1L1517.0 995.1L1517.0 995.1L1517.2 995.1L1517.5 995.1L1517.7 995.1L1518.0 995.2L1518.2 995.2L1518.5 995.2L1518.7 995.2L1519.0 995.2L1519.0 995.2L1521.0 995.3L1523.0 995.3L1525.0 995.4L1527.0 995.4L1529.0 995.5L1531.0 995.5L1533.0 995.5L1535.0 995.5L1537.0 995.6L1539.0 995.6L1541.0 995.6L1543.0 995.6L1545.0 995.6L1547.0 995.6L1549.0 995.6L1551.0 995.7L1553.0 995.7L1555.0 995.7L1557.0 995.7L1559.0 995.7L1561.0 995.7L1563.0 995.7L1565.0 995.7L1567.0 995.7L1569.0 995.7L1571.0 995.7L1573.0 995.7L1575.0 995.7L1577.0 995.7L1579.0 995.7L1581.0 995.7L1583.0 995.7L1585.0 995.7L1587.0 995.7L1589.0 995.7L1591.0 995.7L1593.0 995.7L1595.0 995.7L1597.0 995.7L1599.0 995.8L1601.0 995.8L1603.0 995.8L1605.0 995.8L1607.0 995.8L1609.0 995.8L1611.0 995.8L1613.0 995.8L1615.0 995.8L1617.0 995.8L1619.0 995.8L1621.0 995.8L1623.0 995.8L1625.0 995.8L1626.5 995.8" fill="none" stroke="#000" stroke-width="7" stroke-linejoin="round" stroke-linecap="butt"/>
<rect x="155.0" y="14.6" width="10.2" height="1028.0" fill="#000"/>
<rect x="1626.2" y="14.6" width="10.3" height="1028.0" fill="#000"/>
<rect x="155.0" y="14.6" width="1481.5" height="6.7" fill="#000"/>
<rect x="155.0" y="1033.2" width="1481.5" height="9.4" fill="#000"/>
<rect x="1017.6" y="14.6" width="6.0" height="122.6" fill="#000"/>
<rect x="1017.6" y="130.2" width="618.9" height="7.0" fill="#000"/>
<path d="M159.5 618.5L161.5 621.8L163.5 625.2L165.5 628.4L167.5 631.7L169.5 633.9L171.5 635.8L173.5 636.5L175.5 636.8L177.5 637.1L179.5 637.4L181.5 637.6L183.5 637.8L185.5 637.9L187.5 638.1L189.5 638.2L191.5 638.4L193.5 638.5L195.5 638.7L197.5 638.8L199.5 639.0L201.5 639.1L203.5 639.2L205.5 639.3L207.5 639.4L209.5 639.6L211.5 639.7L213.5 639.8L215.5 639.9L217.5 640.0L219.5 640.2L221.5 640.3L223.5 640.4L225.5 640.5L227.5 640.6L229.5 640.7L231.5 640.8L233.5 640.9L235.5 641.0L237.5 641.1L239.5 641.2L241.5 641.3L243.5 641.5L245.5 641.6L247.5 641.7L249.5 641.8L251.5 641.8L253.5 641.8L255.5 641.8L257.5 641.8L259.5 641.8L261.5 641.8L263.5 641.8L265.5 641.9L267.5 641.9L269.5 641.9L271.5 641.9L273.5 641.9L275.5 641.9L277.5 641.9L279.5 641.9L281.5 641.9L283.5 641.9L285.5 641.9L287.5 641.9L289.5 641.9L291.5 642.0L293.5 642.0L295.5 642.0L297.5 642.0L299.5 642.0L301.5 642.0L303.5 642.0L305.5 642.0L307.5 642.0L309.5 642.0L311.5 642.0L313.5 642.0L315.5 641.9L317.5 641.9L319.5 641.9L321.5 641.9L323.5 641.9L325.5 641.9L327.5 641.9L329.5 641.9L331.5 641.9L333.5 641.9L335.5 641.9L337.5 641.9L339.5 641.9L341.5 641.9L343.5 641.9L345.5 641.9L347.5 641.9L349.5 641.9L351.5 641.9L353.5 641.9L355.5 641.8L357.5 641.8L359.5 641.8L361.5 641.8L363.5 641.8L365.5 641.8L367.5 641.8L369.5 641.8L371.5 641.8L373.5 641.8L375.5 641.8L377.5 641.8L379.5 641.8L381.5 641.7L383.5 641.6L385.5 641.4L387.5 641.3L389.5 641.2L391.5 641.0L393.5 640.9L395.5 640.8L397.5 640.6L399.5 640.5L401.5 640.4L403.5 640.3L405.5 640.2L407.5 640.1L409.5 640.0L411.5 639.9L413.5 639.8L415.5 639.7L417.5 639.6L419.5 639.5L421.5 639.5L423.5 639.5L425.5 639.5L427.5 639.5L429.5 639.4L431.5 639.4L433.5 639.4L435.5 639.4L437.5 639.4L439.5 639.4L441.5 639.4L443.5 639.4L445.5 639.4L447.5 639.4L449.5 639.4L451.5 639.4L453.5 639.4L455.5 639.4L457.5 639.4L459.5 639.3L461.5 639.3L463.5 639.3L465.5 639.3L467.5 639.3L469.5 639.3L471.5 639.3L473.5 639.3L475.5 639.3L477.5 639.3L479.5 639.3L481.5 639.3L483.5 639.0L485.5 638.6L487.5 638.2L489.5 637.9L491.5 637.8L493.5 637.8L495.5 637.8L497.5 637.8L499.5 637.7L501.5 637.7L503.5 637.7L505.5 637.7L507.5 637.7L509.5 637.7L511.5 637.7L513.5 637.7L515.5 637.7L517.5 637.7L519.5 637.7L521.5 637.7L523.5 637.7L525.5 637.7L527.5 637.7L529.5 637.7L531.5 637.7L533.5 637.7L535.5 637.7L537.5 637.7L539.5 637.7L541.5 637.6L543.5 637.6L545.5 637.6L547.5 637.6L549.5 637.6L551.5 637.6L553.5 637.6L555.5 637.6L557.5 637.6L559.5 637.6L561.5 637.6L563.5 637.6L565.5 637.6L567.5 637.6L569.5 637.6L571.5 637.6L573.5 637.6L575.5 637.6L577.5 637.6L579.5 637.6L581.5 637.5L583.5 637.5L585.5 637.5L587.5 637.5L589.5 637.5L591.5 637.5L593.5 637.5L595.5 637.5L597.5 637.5L599.5 637.5L601.5 637.5L603.5 637.5L605.5 637.5L607.5 637.5L609.5 637.5L611.5 637.5L613.5 637.5L615.5 637.5L617.5 637.4L619.5 637.4L621.5 637.4L623.5 637.4L625.5 637.4L627.5 637.4L629.5 637.4L631.5 637.4L633.5 637.4L635.5 637.4L637.5 637.4L639.5 637.4L641.5 637.4L643.5 637.4L645.5 637.4L647.5 637.4L649.5 637.4L651.5 637.4L653.5 637.3L655.5 637.3L657.5 637.3L659.5 637.3L661.5 637.3L663.5 637.3L665.5 637.3L667.5 637.3L669.5 637.3L671.5 637.3L673.5 637.3L675.5 637.3L677.5 637.3L679.5 637.3L681.5 637.2L683.5 637.2L685.5 637.2L687.5 637.2L689.5 637.2L691.5 637.2L693.5 637.2L695.5 637.2L697.5 637.2L699.5 637.1L701.5 637.1L703.5 637.0L705.5 637.0L707.5 636.9L709.5 636.8L711.5 636.8L713.5 636.7L715.5 636.6L717.5 636.5L719.5 636.5L721.5 636.4L723.5 636.3L725.5 636.2L727.5 636.1L729.5 636.1L731.5 636.0L733.5 635.9L735.5 635.8L737.5 635.7L739.5 635.6L741.5 635.5L743.5 635.3L745.5 635.2L747.5 635.1L749.5 634.9L751.5 634.8L753.5 634.6L755.5 634.4L757.5 634.1L759.5 633.9L760.8 633.7L761.0 633.6L761.3 633.6L761.5 633.6L761.5 633.5L761.8 633.5L762.0 633.5L762.3 633.4L762.5 633.4L762.8 633.3L763.0 633.3L763.3 633.2L763.5 633.2L763.5 633.2L763.8 633.1L764.0 633.1L764.3 633.0L764.5 633.0L764.8 632.9L765.0 632.9L765.3 632.8L765.5 632.7L765.5 632.7L765.8 632.7L766.0 632.6L766.3 632.5L766.5 632.5L766.8 632.4L767.0 632.3L767.3 632.3L767.5 632.2L767.5 632.2L767.8 632.1L768.0 632.0L768.3 631.9L768.5 631.9L768.8 631.8L769.0 631.7L769.3 631.6L769.5 631.5L769.5 631.5L769.8 631.4L770.0 631.3L770.3 631.2L770.5 631.1L770.8 631.0L771.0 630.9L771.3 630.7L771.5 630.6L771.5 630.6L771.8 630.5L772.0 630.3L772.3 630.2L772.5 630.1L772.8 629.9L773.0 629.8L773.3 629.6L773.5 629.5L773.5 629.4L773.8 629.2L774.0 629.1L774.3 628.9L774.5 628.7L774.8 628.5L775.0 628.3L775.3 628.0L775.5 627.8L775.5 627.8L775.8 627.5L776.0 627.3L776.3 627.0L776.5 626.7L776.8 626.4L777.0 626.1L777.3 625.8L777.5 625.5L777.5 625.4L777.8 625.1L778.0 624.7L778.3 624.3L778.5 623.8L778.8 623.4L779.0 622.9L779.3 622.4L779.5 622.0L779.5 621.9L779.8 621.3L780.0 620.7L780.3 620.0L780.5 619.3L780.8 618.6L781.0 617.8L781.3 616.9L781.5 616.2L781.5 616.0L781.8 615.0L782.0 613.9L782.3 612.7L782.5 611.4L782.8 610.0L783.0 608.5L783.3 606.8L783.5 605.3L783.5 604.9L783.8 602.9L784.0 600.6L784.3 598.0L784.5 595.1L784.8 591.9L785.0 588.3L785.3 584.3L785.5 580.8L785.5 579.8L785.8 574.8L786.0 569.2L786.3 563.0L786.5 556.1L786.8 548.5L787.0 540.1L787.3 530.9L787.5 523.0L787.5 520.9L787.8 510.1L788.0 498.5L788.3 486.2L788.5 473.3L788.8 460.0L789.0 446.5L789.3 433.2L789.5 423.0L789.5 420.5L789.8 409.0L790.0 399.2L790.3 391.6L790.5 386.9L790.8 385.3L791.0 386.9L791.3 391.6L791.5 397.4L791.5 399.1L791.8 408.9L792.0 420.4L792.3 433.1L792.5 446.4L792.8 459.9L793.0 473.2L793.3 486.1L793.5 496.0L793.5 498.4L793.8 509.9L794.0 520.7L794.3 530.7L794.5 539.9L794.8 548.3L795.0 555.9L795.3 562.7L795.5 567.8L795.5 569.0L795.8 574.5L796.0 579.5L796.3 584.0L796.5 588.0L796.8 591.6L797.0 594.8L797.3 597.6L797.5 599.7L797.5 600.2L797.8 602.5L798.0 604.5L798.3 606.4L798.5 608.1L798.8 609.6L799.0 611.0L799.3 612.2L799.5 613.2L799.5 613.4L799.8 614.5L800.0 615.4L800.3 616.4L800.5 617.2L800.8 618.0L801.0 618.7L801.3 619.4L801.5 619.9L801.5 620.0L801.8 620.6L802.0 621.2L802.3 621.7L802.5 622.2L802.8 622.7L803.0 623.1L803.3 623.5L803.5 623.9L803.5 623.9L803.8 624.3L804.0 624.7L804.3 625.0L804.5 625.3L804.8 625.6L805.0 625.9L805.3 626.2L805.5 626.4L805.5 626.4L805.8 626.7L806.0 626.9L806.3 627.1L806.5 627.3L806.8 627.5L807.0 627.7L807.3 627.9L807.5 628.1L807.5 628.1L807.8 628.3L808.0 628.4L808.3 628.6L808.5 628.7L808.8 628.9L809.0 629.0L809.3 629.1L809.5 629.2L809.5 629.2L809.8 629.4L810.0 629.5L810.3 629.6L810.5 629.7L810.8 629.8L811.0 629.9L811.3 630.0L811.5 630.1L811.5 630.1L811.8 630.2L812.0 630.3L812.3 630.3L812.5 630.4L812.8 630.5L813.0 630.6L813.3 630.6L813.5 630.7L813.5 630.7L813.8 630.8L814.0 630.8L814.3 630.9L814.5 630.9L814.8 631.0L815.0 631.1L815.3 631.1L815.5 631.1L815.5 631.2L815.8 631.2L816.0 631.3L816.3 631.3L816.5 631.3L816.8 631.4L817.0 631.4L817.3 631.5L817.5 631.5L817.5 631.5L817.8 631.5L818.0 631.6L818.3 631.6L818.5 631.7L818.8 631.7L819.0 631.7L819.3 631.7L819.5 631.8L819.5 631.8L819.8 631.8L820.0 631.8L820.3 631.9L820.5 631.9L821.5 632.0L823.5 632.1L825.5 632.3L827.5 632.4L829.5 632.4L831.5 632.5L833.5 632.6L835.5 632.7L837.5 632.8L839.5 632.9L841.5 633.0L843.5 633.1L845.5 633.1L847.5 633.2L849.5 633.2L851.5 633.2L853.5 633.3L855.5 633.3L857.5 633.3L859.5 633.4L861.5 633.4L863.5 633.4L865.5 633.4L867.5 633.4L869.5 633.4L871.5 633.4L873.5 633.4L875.5 633.4L877.5 633.4L879.5 633.3L881.5 633.3L883.5 633.2L885.5 633.1L887.5 633.0L889.5 632.9L891.5 632.8L893.5 632.6L894.5 632.5L894.8 632.5L895.0 632.4L895.2 632.4L895.5 632.4L895.8 632.4L896.0 632.3L896.2 632.3L896.5 632.3L896.8 632.2L897.0 632.2L897.2 632.1L897.5 632.1L897.8 632.1L898.0 632.0L898.2 632.0L898.5 631.9L898.8 631.9L899.0 631.8L899.2 631.8L899.5 631.8L899.8 631.7L900.0 631.6L900.2 631.6L900.5 631.5L900.8 631.5L901.0 631.4L901.2 631.4L901.5 631.3L901.8 631.2L902.0 631.2L902.2 631.1L902.5 631.0L902.8 630.9L903.0 630.9L903.2 630.8L903.5 630.7L903.8 630.6L904.0 630.5L904.2 630.4L904.5 630.3L904.8 630.2L905.0 630.1L905.2 630.0L905.5 629.9L905.8 629.8L906.0 629.7L906.2 629.6L906.5 629.4L906.8 629.3L907.0 629.1L907.2 629.0L907.5 628.8L907.8 628.7L908.0 628.5L908.2 628.3L908.5 628.1L908.8 628.0L909.0 627.8L909.2 627.5L909.5 627.3L909.8 627.1L910.0 626.9L910.2 626.6L910.5 626.3L910.8 626.1L911.0 625.8L911.2 625.4L911.5 625.1L911.8 624.8L912.0 624.4L912.2 624.0L912.5 623.6L912.8 623.2L913.0 622.7L913.2 622.2L913.5 621.7L913.8 621.2L914.0 620.6L914.2 619.9L914.5 619.2L914.8 618.5L915.0 617.7L915.2 616.9L915.5 615.9L915.8 615.0L916.0 613.9L916.2 612.7L916.5 611.4L916.8 610.1L917.0 608.6L917.2 607.0L917.5 605.2L917.8 603.3L918.0 601.2L918.2 598.9L918.5 596.5L918.8 593.8L919.0 591.0L919.2 587.9L919.5 584.5L919.8 580.9L920.0 577.1L920.2 573.0L920.5 568.6L920.8 564.0L921.0 559.1L921.2 554.0L921.5 548.7L921.8 543.2L922.0 537.5L922.2 531.9L922.5 526.3L922.8 520.9L923.0 515.7L923.2 511.0L923.5 506.9L923.8 503.5L924.0 501.0L924.2 499.4L924.5 498.9L924.8 499.4L925.0 501.0L925.2 503.5L925.5 506.9L925.8 511.0L926.0 515.8L926.2 520.9L926.5 526.4L926.8 532.0L927.0 537.6L927.2 543.2L927.5 548.7L927.8 554.1L928.0 559.2L928.2 564.1L928.5 568.7L928.8 573.1L929.0 577.2L929.2 581.1L929.5 584.7L929.8 588.0L930.0 591.1L930.2 594.0L930.5 596.6L930.8 599.1L931.0 601.4L931.2 603.5L931.5 605.4L931.8 607.2L932.0 608.8L932.2 610.3L932.5 611.7L932.8 612.9L933.0 614.1L933.2 615.2L933.5 616.2L933.8 617.1L934.0 618.0L934.2 618.8L934.5 619.5L934.8 620.2L935.0 620.9L935.2 621.5L935.5 622.0L935.8 622.5L936.0 623.0L936.2 623.5L936.5 623.9L936.8 624.4L937.0 624.8L937.2 625.1L937.5 625.5L937.8 625.8L938.0 626.1L938.2 626.4L938.5 626.7L938.8 627.0L939.0 627.3L939.2 627.5L939.5 627.7L939.8 628.0L940.0 628.2L940.2 628.4L940.5 628.6L940.8 628.8L941.0 629.0L941.2 629.1L941.5 629.3L941.8 629.5L942.0 629.6L942.2 629.8L942.5 629.9L942.8 630.1L943.0 630.2L943.2 630.3L943.5 630.4L943.8 630.6L944.0 630.7L944.2 630.8L944.5 630.9L944.8 631.0L945.0 631.1L945.2 631.2L945.5 631.3L945.8 631.4L946.0 631.5L946.2 631.5L946.5 631.6L946.8 631.7L947.0 631.8L947.2 631.9L947.5 631.9L947.8 632.0L948.0 632.1L948.2 632.1L948.5 632.2L948.8 632.3L949.0 632.3L949.2 632.4L949.5 632.4L949.8 632.5L950.0 632.6L950.2 632.6L950.5 632.7L950.8 632.7L951.0 632.8L951.2 632.8L951.5 632.9L951.8 632.9L952.0 632.9L952.2 633.0L952.5 633.0L952.8 633.1L953.0 633.1L953.2 633.2L953.5 633.2L953.8 633.2L954.0 633.3L954.2 633.3L955.5 633.5L957.5 633.7L959.5 633.9L961.5 634.1L963.5 634.2L965.5 634.3L967.5 634.3L969.5 634.4L971.5 634.5L973.5 634.5L975.5 634.6L977.5 634.6L979.5 634.6L981.5 634.7L983.5 634.7L985.5 634.7L987.5 634.7L989.5 634.7L991.5 634.8L993.5 634.8L995.5 634.8L997.5 634.8L999.5 634.8L1001.5 634.8L1003.5 634.8L1005.5 634.8L1007.5 634.8L1009.5 634.8L1011.5 634.8L1013.5 634.8L1015.5 634.8L1017.5 634.8L1019.5 634.8L1021.5 634.8L1023.5 634.8L1025.5 634.8L1027.5 634.8L1029.5 634.8L1031.5 634.7L1033.5 634.7L1035.5 634.7L1037.5 634.7L1039.5 634.7L1041.5 634.7L1043.5 634.7L1045.5 634.7L1047.5 634.7L1049.5 634.7L1051.5 634.7L1053.5 634.7L1055.5 634.6L1057.5 634.6L1059.5 634.6L1061.5 634.6L1063.5 634.6L1065.5 634.6L1067.5 634.6L1069.5 634.6L1071.5 634.6L1073.5 634.6L1075.5 634.5L1077.5 634.5L1079.5 634.5L1081.5 634.5L1083.5 634.5L1085.5 634.5L1087.5 634.5L1089.5 634.5L1091.5 634.5L1093.5 634.4L1095.5 634.4L1097.5 634.4L1099.5 634.4L1101.5 634.4L1103.5 634.4L1105.5 634.4L1107.5 634.4L1109.5 634.3L1111.5 634.3L1113.5 634.3L1115.5 634.3L1117.5 634.3L1119.5 634.3L1121.5 634.3L1123.5 634.3L1125.5 634.3L1127.5 634.2L1129.5 634.2L1131.5 634.2L1133.5 634.2L1135.5 634.2L1137.5 634.2L1139.5 634.2L1141.5 634.2L1143.5 634.1L1145.5 634.1L1147.5 634.1L1149.5 634.1L1151.5 634.1L1153.5 634.1L1155.5 634.1L1157.5 634.1L1159.5 634.0L1161.5 634.0L1163.5 634.0L1165.5 634.0L1167.5 634.0L1169.5 634.0L1171.5 634.0L1173.5 634.0L1175.5 633.9L1177.5 633.9L1179.5 633.9L1181.5 633.9L1183.5 633.9L1185.5 633.9L1187.5 633.9L1189.5 633.8L1191.5 633.8L1193.5 633.8L1195.5 633.8L1197.5 633.8L1199.5 633.8L1201.5 633.8L1203.5 633.8L1205.5 633.7L1207.5 633.7L1209.5 633.7L1211.5 633.7L1213.5 633.7L1215.5 633.7L1217.5 633.7L1219.5 633.6L1221.5 633.6L1223.5 633.6L1225.5 633.6L1227.5 633.6L1229.5 633.6L1231.5 633.6L1233.5 633.6L1235.5 633.5L1237.5 633.5L1239.5 633.5L1241.5 633.5L1243.5 633.5L1245.5 633.5L1247.5 633.5L1249.5 633.4L1251.5 633.4L1253.5 633.4L1255.5 633.4L1257.5 633.4L1259.5 633.4L1261.5 633.3L1263.5 633.3L1265.5 633.3L1267.5 633.3L1269.5 633.3L1271.5 633.3L1273.5 633.2L1275.5 633.2L1277.5 633.2L1279.5 633.2L1281.5 633.2L1283.5 633.2L1285.5 633.1L1287.5 633.1L1289.5 633.1L1291.5 633.1L1293.5 633.1L1295.5 633.0L1297.5 633.0L1299.5 633.0L1301.5 633.0L1303.5 633.0L1305.5 633.0L1307.5 633.0L1309.5 633.0L1311.5 633.0L1313.5 632.9L1315.5 632.9L1317.5 632.9L1319.5 632.9L1321.5 632.9L1323.5 632.9L1325.5 632.8L1327.5 632.8L1329.5 632.7L1331.5 632.7L1333.5 632.6L1335.5 632.6L1337.5 632.5L1339.5 632.4L1340.0 632.4L1340.2 632.4L1340.5 632.3L1340.8 632.3L1341.0 632.3L1341.2 632.3L1341.5 632.3L1341.8 632.3L1342.0 632.2L1342.2 632.2L1342.5 632.2L1342.8 632.2L1343.0 632.2L1343.2 632.2L1343.5 632.1L1343.8 632.1L1344.0 632.1L1344.2 632.1L1344.5 632.0L1344.8 632.0L1345.0 632.0L1345.2 632.0L1345.5 631.9L1345.8 631.9L1346.0 631.9L1346.2 631.9L1346.5 631.8L1346.8 631.8L1347.0 631.8L1347.2 631.7L1347.5 631.7L1347.8 631.7L1348.0 631.6L1348.2 631.6L1348.5 631.6L1348.8 631.5L1349.0 631.5L1349.2 631.4L1349.5 631.4L1349.8 631.3L1350.0 631.3L1350.2 631.2L1350.5 631.1L1350.8 631.1L1351.0 631.0L1351.2 630.9L1351.5 630.8L1351.8 630.7L1352.0 630.6L1352.2 630.5L1352.5 630.4L1352.8 630.3L1353.0 630.1L1353.2 630.0L1353.5 629.8L1353.8 629.6L1354.0 629.5L1354.2 629.2L1354.5 629.0L1354.8 628.8L1355.0 628.5L1355.2 628.2L1355.5 627.9L1355.8 627.5L1356.0 627.1L1356.2 626.7L1356.5 626.3L1356.8 625.8L1357.0 625.3L1357.2 624.7L1357.5 624.1L1357.8 623.4L1358.0 622.7L1358.2 622.0L1358.5 621.2L1358.8 620.3L1359.0 619.4L1359.2 618.4L1359.5 617.3L1359.8 616.2L1360.0 615.0L1360.2 613.8L1360.5 612.5L1360.8 611.1L1361.0 609.6L1361.2 608.1L1361.5 606.5L1361.8 604.9L1362.0 603.2L1362.2 601.4L1362.5 599.5L1362.8 597.6L1363.0 595.7L1363.2 593.7L1363.5 591.6L1363.8 589.5L1364.0 587.4L1364.2 585.3L1364.5 583.1L1364.8 580.9L1365.0 578.7L1365.2 576.5L1365.5 574.4L1365.8 572.2L1366.0 570.1L1366.2 568.0L1366.5 566.0L1366.8 564.0L1367.0 562.2L1367.2 560.4L1367.5 558.7L1367.8 557.1L1368.0 555.7L1368.2 554.4L1368.5 553.2L1368.8 552.2L1369.0 551.4L1369.2 550.7L1369.5 550.3L1369.8 550.0L1370.0 549.9L1370.2 550.0L1370.5 550.3L1370.8 550.8L1371.0 551.4L1371.2 552.2L1371.5 553.2L1371.8 554.4L1372.0 555.7L1372.2 557.1L1372.5 558.7L1372.8 560.4L1373.0 562.2L1373.2 564.1L1373.5 566.0L1373.8 568.0L1374.0 570.1L1374.2 572.2L1374.5 574.4L1374.8 576.6L1375.0 578.7L1375.2 580.9L1375.5 583.1L1375.8 585.3L1376.0 587.5L1376.2 589.6L1376.5 591.7L1376.8 593.7L1377.0 595.7L1377.2 597.7L1377.5 599.6L1377.8 601.4L1378.0 603.2L1378.2 604.9L1378.5 606.6L1378.8 608.2L1379.0 609.7L1379.2 611.1L1379.5 612.5L1379.8 613.8L1380.0 615.1L1380.2 616.3L1380.5 617.4L1380.8 618.4L1381.0 619.4L1381.2 620.4L1381.5 621.2L1381.8 622.0L1382.0 622.8L1382.2 623.5L1382.5 624.2L1382.8 624.8L1383.0 625.4L1383.2 625.9L1383.5 626.4L1383.8 626.8L1384.0 627.2L1384.2 627.6L1384.5 628.0L1384.8 628.3L1385.0 628.6L1385.2 628.9L1385.5 629.1L1385.8 629.3L1386.0 629.6L1386.2 629.7L1386.5 629.9L1386.8 630.1L1387.0 630.2L1387.2 630.4L1387.5 630.5L1387.8 630.6L1388.0 630.7L1388.2 630.8L1388.5 630.9L1388.8 631.0L1389.0 631.1L1389.2 631.2L1389.5 631.3L1389.8 631.3L1390.0 631.4L1390.2 631.4L1390.5 631.5L1390.8 631.5L1391.0 631.6L1391.2 631.6L1391.5 631.7L1391.8 631.7L1392.0 631.8L1392.2 631.8L1392.5 631.8L1392.8 631.9L1393.0 631.9L1393.2 631.9L1393.5 632.0L1393.8 632.0L1394.0 632.0L1394.2 632.1L1394.5 632.1L1394.8 632.1L1395.0 632.2L1395.2 632.2L1395.5 632.2L1395.8 632.2L1396.0 632.3L1396.2 632.3L1396.5 632.3L1396.8 632.3L1397.0 632.3L1397.2 632.4L1397.5 632.4L1397.8 632.4L1398.0 632.4L1398.2 632.4L1398.5 632.5L1398.8 632.5L1399.0 632.5L1399.2 632.5L1399.5 632.5L1399.8 632.5L1401.5 632.6L1403.5 632.7L1405.5 632.8L1407.5 632.9L1409.5 633.0L1411.5 633.0L1413.5 633.1L1415.5 633.1L1417.5 633.2L1419.5 633.2L1421.5 633.2L1423.5 633.2L1425.5 633.3L1427.5 633.3L1429.5 633.3L1431.5 633.3L1433.5 633.3L1435.5 633.4L1437.5 633.4L1439.5 633.4L1441.5 633.4L1443.5 633.4L1445.5 633.4L1447.5 633.4L1449.5 633.4L1451.5 633.4L1453.5 633.4L1455.5 633.4L1457.5 633.4L1459.5 633.4L1461.5 633.4L1463.5 633.4L1465.5 633.4L1467.5 633.4L1468.4 633.3L1468.7 633.3L1468.9 633.3L1469.2 633.3L1469.4 633.3L1469.5 633.3L1469.7 633.3L1469.9 633.3L1470.2 633.3L1470.4 633.3L1470.7 633.3L1470.9 633.3L1471.2 633.3L1471.4 633.3L1471.5 633.3L1471.7 633.3L1471.9 633.3L1472.2 633.3L1472.4 633.3L1472.7 633.3L1472.9 633.3L1473.2 633.3L1473.4 633.2L1473.5 633.2L1473.7 633.2L1473.9 633.2L1474.2 633.2L1474.4 633.2L1474.7 633.2L1474.9 633.2L1475.2 633.2L1475.4 633.2L1475.5 633.2L1475.7 633.2L1475.9 633.2L1476.2 633.1L1476.4 633.1L1476.7 633.1L1476.9 633.1L1477.2 633.1L1477.4 633.1L1477.5 633.1L1477.7 633.1L1477.9 633.1L1478.2 633.0L1478.4 633.0L1478.7 633.0L1478.9 633.0L1479.2 633.0L1479.4 633.0L1479.5 633.0L1479.7 633.0L1479.9 632.9L1480.2 632.9L1480.4 632.9L1480.7 632.9L1480.9 632.8L1481.2 632.8L1481.4 632.8L1481.5 632.8L1481.7 632.8L1481.9 632.7L1482.2 632.7L1482.4 632.7L1482.7 632.6L1482.9 632.6L1483.2 632.6L1483.4 632.5L1483.5 632.5L1483.7 632.5L1483.9 632.4L1484.2 632.4L1484.4 632.3L1484.7 632.2L1484.9 632.2L1485.2 632.1L1485.4 632.0L1485.5 631.9L1485.7 631.9L1485.9 631.8L1486.2 631.7L1486.4 631.5L1486.7 631.4L1486.9 631.3L1487.2 631.1L1487.4 630.9L1487.5 630.9L1487.7 630.7L1487.9 630.5L1488.2 630.3L1488.4 630.1L1488.7 629.8L1488.9 629.5L1489.2 629.2L1489.4 628.9L1489.5 628.8L1489.7 628.6L1489.9 628.2L1490.2 627.8L1490.4 627.4L1490.7 626.9L1490.9 626.4L1491.2 625.9L1491.4 625.4L1491.5 625.2L1491.7 624.9L1491.9 624.3L1492.2 623.7L1492.4 623.1L1492.7 622.4L1492.9 621.8L1493.2 621.1L1493.4 620.4L1493.5 620.1L1493.7 619.7L1493.9 619.0L1494.2 618.3L1494.4 617.5L1494.7 616.8L1494.9 616.1L1495.2 615.4L1495.4 614.7L1495.5 614.4L1495.7 614.0L1495.9 613.4L1496.2 612.7L1496.4 612.2L1496.7 611.7L1496.9 611.2L1497.2 610.8L1497.4 610.4L1497.5 610.3L1497.7 610.2L1497.9 610.0L1498.2 609.8L1498.4 609.8L1498.7 609.8L1498.9 610.0L1499.2 610.2L1499.4 610.4L1499.5 610.6L1499.7 610.8L1499.9 611.2L1500.2 611.7L1500.4 612.2L1500.7 612.8L1500.9 613.4L1501.2 614.0L1501.4 614.7L1501.5 615.0L1501.7 615.4L1501.9 616.1L1502.2 616.8L1502.4 617.6L1502.7 618.3L1502.9 619.0L1503.2 619.7L1503.4 620.4L1503.5 620.7L1503.7 621.1L1503.9 621.8L1504.2 622.5L1504.4 623.1L1504.7 623.8L1504.9 624.4L1505.2 624.9L1505.4 625.5L1505.5 625.7L1505.7 626.0L1505.9 626.5L1506.2 627.0L1506.4 627.4L1506.7 627.9L1506.9 628.3L1507.2 628.6L1507.4 629.0L1507.5 629.1L1507.7 629.3L1507.9 629.6L1508.2 629.9L1508.4 630.2L1508.7 630.4L1508.9 630.6L1509.2 630.8L1509.4 631.0L1509.5 631.1L1509.7 631.2L1509.9 631.4L1510.2 631.5L1510.4 631.7L1510.7 631.8L1510.9 631.9L1511.2 632.0L1511.4 632.1L1511.5 632.1L1511.7 632.2L1511.9 632.3L1512.2 632.3L1512.4 632.4L1512.7 632.5L1512.9 632.5L1513.2 632.6L1513.4 632.6L1513.5 632.7L1513.7 632.7L1513.9 632.7L1514.2 632.8L1514.4 632.8L1514.7 632.8L1514.9 632.9L1515.2 632.9L1515.4 632.9L1515.5 633.0L1515.7 633.0L1515.9 633.0L1516.2 633.0L1516.4 633.0L1516.7 633.1L1516.9 633.1L1517.2 633.1L1517.4 633.1L1517.5 633.1L1517.7 633.1L1517.9 633.2L1518.2 633.2L1518.4 633.2L1518.7 633.2L1518.9 633.2L1519.2 633.3L1519.4 633.3L1519.5 633.3L1519.7 633.3L1519.9 633.3L1520.2 633.3L1520.4 633.3L1520.7 633.3L1520.9 633.3L1521.2 633.4L1521.4 633.4L1521.5 633.4L1521.7 633.4L1521.9 633.4L1522.2 633.4L1522.4 633.4L1522.7 633.4L1522.9 633.4L1523.2 633.4L1523.4 633.5L1523.5 633.5L1523.7 633.5L1523.9 633.5L1524.2 633.5L1524.4 633.5L1524.7 633.5L1524.9 633.5L1525.2 633.5L1525.4 633.5L1525.5 633.5L1525.7 633.5L1525.9 633.5L1526.2 633.5L1526.4 633.6L1526.7 633.6L1526.9 633.6L1527.2 633.6L1527.4 633.6L1527.5 633.6L1527.7 633.6L1527.9 633.6L1528.2 633.6L1529.5 633.6L1531.5 633.7L1533.5 633.7L1535.5 633.7L1537.5 633.8L1539.5 633.8L1541.5 633.9L1543.5 633.9L1545.5 634.0L1547.5 634.1L1549.5 634.1L1551.5 634.2L1553.5 634.3L1555.5 634.3L1557.5 634.5L1559.5 635.1L1561.5 635.7L1563.5 636.0L1565.5 636.2L1567.5 636.3L1569.5 636.5L1571.5 636.7L1573.5 636.8L1575.5 637.0L1577.5 637.1L1579.5 637.3L1581.5 637.5L1583.5 637.6L1585.5 637.7L1587.5 637.6L1589.5 637.5L1591.5 637.5L1593.5 636.8L1595.5 636.0L1597.5 635.2L1599.5 634.4L1601.5 633.6L1603.5 632.5L1605.5 631.1L1607.5 629.8L1609.5 628.3L1611.5 626.7L1613.5 625.2L1615.5 623.7L1617.5 622.4L1619.5 621.1L1621.5 619.8L1623.5 618.5L1625.5 617.2L1627.5 615.9L1629.5 614.6L1630.5 614.0" fill="none" stroke="#ff0000" stroke-width="6.8" stroke-linejoin="round" stroke-linecap="butt"/>
<polygon points="785.2,43.3 802.0,27.0 818.8,43.3 802.0,59.5" fill="#000"/>
<polygon points="801.8,75.6 786.8,99.2 816.8,99.2" fill="#000"/>
<polygon points="535.2,231.8 552.0,215.6 568.8,231.8 552.0,248.1" fill="#000"/>
<polygon points="552.3,263.7 537.3,288.2 567.3,288.2" fill="#000"/>
<circle cx="777.5" cy="221.5" r="14.5" fill="none" stroke="#3a3a3a" stroke-width="2"/>
<circle cx="910.0" cy="260.6" r="14.5" fill="none" stroke="#3a3a3a" stroke-width="2"/>
<polygon points="1158.2,218.0 1175.0,201.8 1191.8,218.0 1175.0,234.2" fill="#000"/>
<polygon points="1174.6,249.8 1159.6,274.2 1189.6,274.2" fill="#000"/>
<circle cx="1345.6" cy="267.2" r="14.5" fill="none" stroke="#3a3a3a" stroke-width="2"/>
<polygon points="1477.0,205.0 1493.8,188.8 1510.5,205.0 1493.8,221.2" fill="#000"/>
<polygon points="1493.6,236.9 1478.6,260.8 1508.6,260.8" fill="#000"/>
<polygon points="773.4,349.5 789.6,332.2 805.9,349.5 789.6,366.8" fill="none" stroke="#555" stroke-width="1.6"/>
<polygon points="909.2,461.9 925.5,444.6 941.8,461.9 925.5,479.1" fill="none" stroke="#555" stroke-width="1.6"/>
<polygon points="1355.5,514.4 1371.8,497.1 1388.0,514.4 1371.8,531.6" fill="none" stroke="#555" stroke-width="1.6"/>
<polygon points="1498.6,563.2 1483.6,586.5 1513.6,586.5" fill="#000"/>
<polygon points="780.0,667.9 796.8,651.6 813.5,667.9 796.8,684.1" fill="#000"/>
<polygon points="796.8,699.9 781.8,724.2 811.8,724.2" fill="#000"/>
<polygon points="532.0,905.4 548.8,889.1 565.5,905.4 548.8,921.6" fill="#000"/>
<polygon points="548.8,937.7 533.8,961.3 563.8,961.3" fill="#000"/>
<circle cx="774.0" cy="867.9" r="14.5" fill="none" stroke="#3a3a3a" stroke-width="2"/>
<circle cx="909.7" cy="886.8" r="14.5" fill="none" stroke="#3a3a3a" stroke-width="2"/>
<polygon points="979.8,930.7 996.5,914.5 1013.2,930.7 996.5,947.0" fill="#000"/>
<polygon points="996.5,963.1 981.5,986.6 1011.5,986.6" fill="#000"/>
<polygon points="1154.8,907.2 1171.5,891.0 1188.2,907.2 1171.5,923.5" fill="#000"/>
<polygon points="1171.5,939.3 1156.5,963.3 1186.5,963.3" fill="#000"/>
<circle cx="1346.1" cy="954.7" r="14.5" fill="none" stroke="#3a3a3a" stroke-width="2"/>
<polygon points="1473.8,893.4 1490.6,877.1 1507.3,893.4 1490.6,909.6" fill="#000"/>
<polygon points="1490.6,925.7 1475.6,949.7 1505.6,949.7" fill="#000"/>
<polygon points="1047.8,55.4 1064.6,39.1 1081.3,55.4 1064.6,71.7" fill="#000"/>
<polygon points="1384.2,55.9 1400.4,38.6 1416.7,55.9 1400.4,73.2" fill="none" stroke="#555" stroke-width="1.6"/>
<polygon points="1064.5,87.8 1049.5,110.7 1079.5,110.7" fill="#000"/>
<circle cx="1398.8" cy="99.4" r="14.5" fill="none" stroke="#3a3a3a" stroke-width="2"/>
<text x="828.5" y="55.9" font-size="37.3" text-anchor="start" font-weight="normal" >(110)</text>
<text x="579.3" y="244.0" font-size="37.3" text-anchor="start" font-weight="normal" >(100)</text>
<text x="805.5" y="233.2" font-size="37.3" text-anchor="start" font-weight="normal" >(111)</text>
<text x="937.4" y="272.0" font-size="37.3" text-anchor="start" font-weight="normal" >(200)</text>
<text x="1201.6" y="229.7" font-size="37.3" text-anchor="start" font-weight="normal" >(200)</text>
<text x="1373.0" y="278.8" font-size="37.3" text-anchor="start" font-weight="normal" >(220)</text>
<text x="1520.2" y="216.7" font-size="37.3" text-anchor="start" font-weight="normal" >(211)</text>
<text x="816.6" y="360.3" font-size="37.3" text-anchor="start" font-weight="normal" >(111)</text>
<text x="952.1" y="471.8" font-size="37.3" text-anchor="start" font-weight="normal" >(200)</text>
<text x="1398.6" y="525.3" font-size="37.3" text-anchor="start" font-weight="normal" >(220)</text>
<text x="1525.5" y="586.1" font-size="37.3" text-anchor="start" font-weight="normal" >(221)</text>
<text x="823.8" y="679.9" font-size="37.3" text-anchor="start" font-weight="normal" >(110)</text>
<text x="575.8" y="917.4" font-size="37.3" text-anchor="start" font-weight="normal" >(100)</text>
<text x="801.9" y="879.4" font-size="37.3" text-anchor="start" font-weight="normal" >(111)</text>
<text x="937.2" y="898.2" font-size="37.3" text-anchor="start" font-weight="normal" >(200)</text>
<text x="1023.6" y="942.7" font-size="37.3" text-anchor="start" font-weight="normal" >(111)</text>
<text x="1198.5" y="918.8" font-size="37.3" text-anchor="start" font-weight="normal" >(200)</text>
<text x="1373.5" y="966.6" font-size="37.3" text-anchor="start" font-weight="normal" >(220)</text>
<text x="1517.1" y="905.4" font-size="37.3" text-anchor="start" font-weight="normal" >(211)</text>
<text x="1102.7" y="66.8" font-size="37.8" text-anchor="start" font-weight="normal" >β - <tspan dx="-2.2">Ni,Al</tspan></text>
<text x="1254.1" y="66.8" font-size="37.8" text-anchor="start" font-weight="normal" letter-spacing="-0.75">(BCC)</text>
<text x="1436.2" y="66.8" font-size="37.8" text-anchor="start" font-weight="normal" >Ni</text>
<text x="1500.8" y="66.8" font-size="37.8" text-anchor="start" font-weight="normal" >(Cubic)</text>
<text x="1101.8" y="110.3" font-size="37.8" text-anchor="start" font-weight="normal" >Co, Al</text>
<text x="1246.6" y="110.3" font-size="37.8" text-anchor="start" font-weight="normal" >(Cubic)</text>
<text x="1434.4" y="110.3" font-size="37.8" text-anchor="start" font-weight="normal" >Cr</text>
<text x="1499.4" y="110.3" font-size="37.8" text-anchor="start" font-weight="normal" >(Cubic)</text>
<text x="208.4" y="168.1" font-size="63.6" text-anchor="start" font-weight="normal" >(c) feedstock</text>
<text x="209.2" y="595.7" font-size="63.8" text-anchor="start" font-weight="normal" >(b)<tspan dx="-2.2"> VPS</tspan></text>
<text x="209.2" y="944.4" font-size="63.6" text-anchor="start" font-weight="normal" >(a)<tspan dx="-1.6"> HVOF</tspan></text>
<text x="159.6" y="1100.6" font-size="54" text-anchor="middle" font-weight="normal" >10</text>
<text x="343.4" y="1100.6" font-size="54" text-anchor="middle" font-weight="normal" >20</text>
<text x="527.2" y="1100.6" font-size="54" text-anchor="middle" font-weight="normal" >30</text>
<text x="711.0" y="1100.6" font-size="54" text-anchor="middle" font-weight="normal" >40</text>
<text x="894.8" y="1100.6" font-size="54" text-anchor="middle" font-weight="normal" >50</text>
<text x="1078.6" y="1100.6" font-size="54" text-anchor="middle" font-weight="normal" >60</text>
<text x="1262.4" y="1100.6" font-size="54" text-anchor="middle" font-weight="normal" >70</text>
<text x="1446.2" y="1100.6" font-size="54" text-anchor="middle" font-weight="normal" >80</text>
<text x="1630.0" y="1100.6" font-size="54" text-anchor="middle" font-weight="normal" >90</text>
<text x="786.0" y="1221.0" font-size="56" text-anchor="start" font-weight="bold" >2θ<tspan font-weight="normal"> (°)</tspan></text>
<text x="0.0" y="0.0" font-size="56" text-anchor="middle" font-weight="bold" transform="translate(55.3,544) rotate(-90)">A.U (missing period)</text>
</g></svg></body></html>
